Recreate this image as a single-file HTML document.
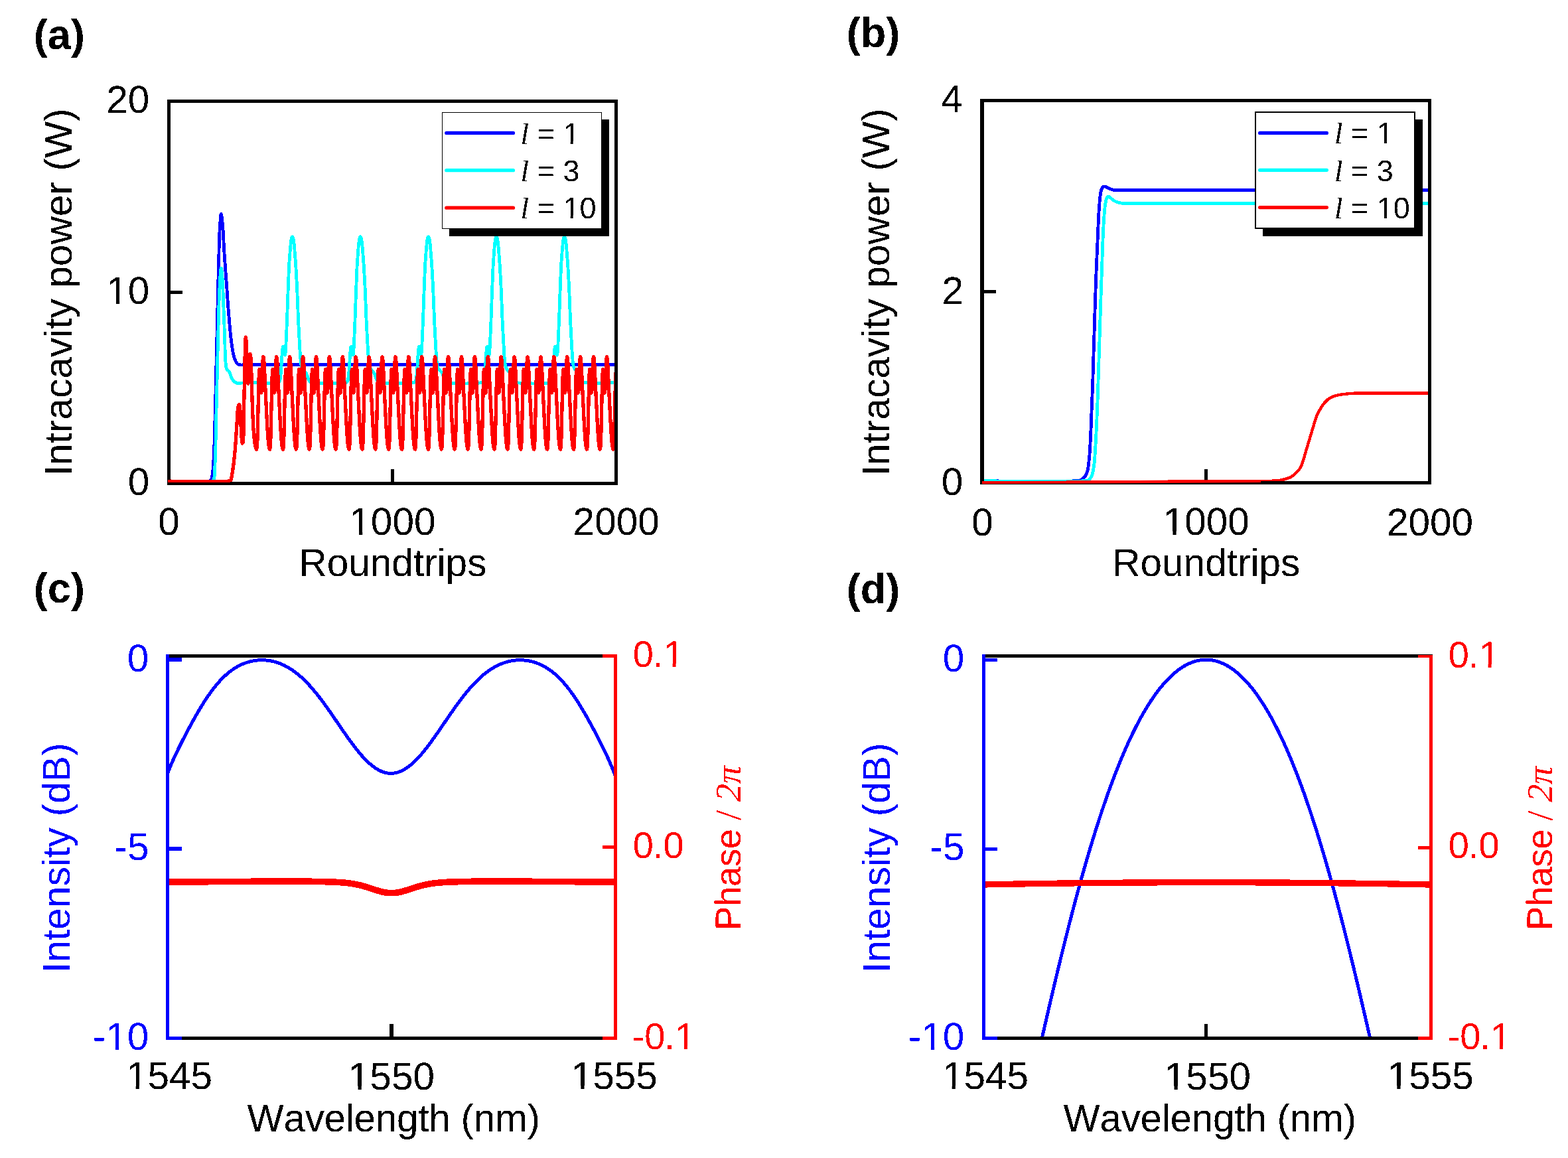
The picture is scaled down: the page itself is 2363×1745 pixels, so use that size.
<!DOCTYPE html>
<html><head><meta charset="utf-8"><title>Figure</title>
<style>
html,body{margin:0;padding:0;background:#fff;width:2363px;height:1745px;overflow:hidden}
svg{display:block}
text{font-kerning:none;text-rendering:geometricPrecision}
</style></head><body>
<svg xmlns="http://www.w3.org/2000/svg" width="2363" height="1745" viewBox="0 0 2363 1745">
<defs>
<clipPath id="ca"><rect x="252" y="155" width="674" height="571"/></clipPath>
<clipPath id="cb"><rect x="1483" y="154" width="669" height="571"/></clipPath>
<clipPath id="cc"><rect x="255" y="991" width="670" height="571"/></clipPath>
<clipPath id="cd"><rect x="1485" y="991" width="669" height="571"/></clipPath>
<filter id="crisp" color-interpolation-filters="sRGB"><feComponentTransfer><feFuncA type="discrete" tableValues="0 1"/></feComponentTransfer></filter>
</defs>
<rect width="2363" height="1745" fill="#fff"/>
<path d="M250 724.8L254.42 724.97L265.62 725.33L280.49 725.7L295.91 725.86L308.78 725.63L316 724.8L316.6 724.56L317.05 724.34L317.39 724.09L317.66 723.81L317.92 723.45L318.2 723L318.75 721.81L319.2 720.28L319.57 718.49L319.9 716.47L320.2 714.29L320.5 712L320.98 707.79L321.36 703.04L321.68 697.83L321.96 692.21L322.22 686.25L322.5 680L322.9 669.93L323.26 658.76L323.59 646.84L323.89 634.52L324.19 622.12L324.5 610L324.82 597.65L325.12 585.19L325.42 572.66L325.72 560.1L326.01 547.53L326.3 535L326.59 522.44L326.87 509.8L327.16 497.16L327.44 484.6L327.72 472.19L328 460L328.26 448.8L328.52 437.67L328.78 426.68L329.05 415.86L329.32 405.29L329.6 395L329.83 386.06L330.05 377.12L330.27 368.36L330.52 359.96L330.83 352.11L331.2 345L331.5 340.21L331.82 335.18L332.17 330.39L332.54 326.34L332.91 323.55L333.3 322.5L333.64 323.2L333.99 325.09L334.36 327.85L334.72 331.14L335.07 334.63L335.4 338L335.87 343.64L336.29 350.11L336.67 357.11L337.04 364.31L337.41 371.38L337.8 378L338.17 383.61L338.54 389.15L338.91 394.6L339.28 399.91L339.64 405.05L340 410L340.29 413.88L340.58 417.57L340.86 421.14L341.14 424.68L341.42 428.27L341.7 432L342 436.21L342.29 440.51L342.58 444.86L342.88 449.25L343.18 453.64L343.5 458L343.83 462.37L344.18 466.77L344.53 471.17L344.89 475.54L345.25 479.83L345.6 484L345.91 487.66L346.22 491.27L346.52 494.82L346.84 498.3L347.16 501.69L347.5 505L347.81 507.81L348.12 510.54L348.44 513.21L348.77 515.83L349.12 518.42L349.5 521L349.87 523.43L350.24 525.86L350.63 528.27L351.05 530.61L351.5 532.87L352 535L352.44 536.67L352.9 538.29L353.38 539.85L353.89 541.34L354.43 542.73L355 544L355.44 544.9L355.89 545.77L356.36 546.57L356.86 547.31L357.4 547.96L358 548.5L358.58 548.87L359.18 549.16L359.83 549.37L360.51 549.54L361.23 549.68L362 549.8L363.02 549.92L363.99 549.95L365.03 549.93L366.3 549.88L367.91 549.82L370 549.8L425.01 549.8L531.93 549.8L663.14 549.8L791.05 549.8L888.03 549.8L926.5 549.8" fill="none" stroke="#0000ff" stroke-width="4.8" stroke-linejoin="round" stroke-linecap="butt" shape-rendering="crispEdges" clip-path="url(#ca)"/>
<path d="M250 724.8L254.8 724.99L266.92 725.41L282.96 725.83L299.51 726.02L313.16 725.75L320.5 724.8L320.98 724.56L321.32 724.34L321.55 724.11L321.73 723.82L321.9 723.47L322.1 723L322.69 720.85L323.1 717.8L323.37 714.02L323.58 709.68L323.77 704.95L324 700L324.45 689.61L324.81 677.39L325.11 663.82L325.39 649.4L325.68 634.63L326 620L326.41 602.46L326.84 583.93L327.27 564.91L327.7 545.92L328.15 527.44L328.6 510L328.97 495.77L329.32 481.56L329.68 467.72L330.06 454.6L330.49 442.58L331 432L331.34 425.87L331.71 419.55L332.1 413.62L332.5 408.67L332.9 405.27L333.3 404L333.59 404.64L333.88 406.36L334.18 408.86L334.47 411.84L334.75 414.98L335 418L335.33 422.72L335.6 427.95L335.83 433.6L336.04 439.56L336.26 445.73L336.5 452L336.83 460.22L337.16 469L337.5 478.11L337.84 487.31L338.17 496.35L338.5 505L338.75 512.8L338.96 520.86L339.17 528.79L339.41 536.22L339.74 542.75L340.2 548L340.43 549.98L340.64 551.77L340.87 553.37L341.15 554.78L341.52 555.99L342 557L342.36 557.46L342.77 557.79L343.22 558.06L343.67 558.31L344.1 558.61L344.5 559L344.97 559.67L345.41 560.44L345.82 561.28L346.22 562.18L346.61 563.09L347 564L347.42 565.05L347.8 566.15L348.18 567.29L348.57 568.42L349 569.5L349.5 570.5L350 571.35L350.52 572.17L351.08 572.96L351.67 573.7L352.31 574.38L353 575L353.73 575.56L354.51 576.08L355.33 576.55L356.19 576.94L357.08 577.27L358 577.5L359.08 577.62L360.22 577.59L361.41 577.47L362.61 577.3L363.82 577.12L365 577L366.09 576.91L367.1 576.82L368.11 576.73L369.21 576.65L370.47 576.57L372 576.5L378.06 576.53L386.66 576.81L396.4 577.14L405.89 577.33L413.76 577.18L418.6 576.5L419.26 576.24L419.78 575.97L420.18 575.68L420.5 575.35L420.8 574.96L421.1 574.5L421.5 573.7L421.8 572.77L422.03 571.73L422.23 570.57L422.4 569.33L422.6 568L422.92 565.54L423.2 562.71L423.44 559.63L423.66 556.41L423.88 553.16L424.1 550L424.32 546.62L424.52 543.05L424.72 539.46L424.92 535.99L425.14 532.79L425.4 530L425.56 528.38L425.72 526.71L425.88 525.15L426.07 523.83L426.31 522.9L426.6 522.5L426.78 522.53L426.99 522.68L427.2 522.94L427.42 523.26L427.62 523.62L427.8 524L428.07 524.88L428.26 526L428.4 527.28L428.53 528.61L428.65 529.88L428.8 531L428.93 531.83L429.07 532.72L429.21 533.57L429.34 534.31L429.48 534.81L429.6 535L429.75 534.68L429.89 533.83L430.03 532.6L430.16 531.12L430.28 529.54L430.4 528L430.59 525.28L430.77 522.15L430.93 518.73L431.09 515.15L431.24 511.53L431.4 508L431.57 504.31L431.74 500.61L431.9 496.86L432.07 493.03L432.23 489.09L432.4 485L432.6 479.81L432.8 474.32L433.01 468.66L433.21 462.98L433.41 457.38L433.6 452L433.77 447.32L433.94 442.74L434.1 438.23L434.27 433.78L434.43 429.38L434.6 425L434.76 420.85L434.92 416.69L435.08 412.56L435.24 408.53L435.42 404.66L435.6 401L435.75 398.31L435.91 395.79L436.07 393.36L436.23 390.97L436.41 388.54L436.6 386L436.82 383.02L437.05 379.89L437.3 376.71L437.56 373.6L437.82 370.66L438.1 368L438.29 366.25L438.47 364.53L438.66 362.91L438.86 361.42L439.11 360.1L439.4 359L439.58 358.48L439.77 357.97L439.98 357.52L440.19 357.14L440.4 356.89L440.6 356.8L440.8 356.89L441.01 357.15L441.22 357.52L441.43 357.98L441.62 358.49L441.8 359L442.08 359.99L442.32 361.16L442.53 362.47L442.73 363.9L442.91 365.42L443.1 367L443.38 369.61L443.65 372.57L443.9 375.73L444.15 378.95L444.38 382.08L444.6 385L444.78 387.27L444.96 389.42L445.12 391.52L445.28 393.62L445.44 395.76L445.6 398L445.78 400.69L445.95 403.46L446.11 406.3L446.28 409.18L446.44 412.09L446.6 415L446.77 418.08L446.94 421.17L447.11 424.29L447.28 427.46L447.44 430.69L447.6 434L447.77 437.83L447.94 441.77L448.11 445.79L448.27 449.86L448.44 453.94L448.6 458L448.77 462.17L448.93 466.4L449.09 470.64L449.26 474.85L449.43 478.99L449.6 483L449.76 486.47L449.92 489.87L450.09 493.21L450.26 496.49L450.43 499.75L450.6 503L450.76 506.05L450.92 509.05L451.09 512.03L451.25 515L451.42 517.98L451.6 521L451.78 524.2L451.97 527.49L452.15 530.79L452.35 534.03L452.56 537.13L452.8 540L452.98 542.06L453.14 544.06L453.31 545.97L453.52 547.78L453.77 549.46L454.1 551L454.37 551.98L454.66 552.89L454.98 553.74L455.33 554.53L455.7 555.28L456.1 556L456.47 556.57L456.88 557.09L457.3 557.57L457.74 558.04L458.17 558.51L458.6 559L459.02 559.48L459.45 559.95L459.88 560.41L460.3 560.89L460.71 561.42L461.1 562L461.56 562.86L461.98 563.82L462.38 564.84L462.77 565.9L463.17 566.96L463.6 568L464.05 569.12L464.49 570.32L464.93 571.51L465.42 572.65L465.96 573.67L466.6 574.5L467.12 575L467.64 575.41L468.19 575.73L468.84 576L469.62 576.25L470.6 576.5L476.46 577.25L485.6 577.74L496.33 577.94L506.95 577.82L515.77 577.35L521.1 576.5L521.77 576.24L522.28 575.97L522.68 575.68L523.01 575.35L523.3 574.96L523.6 574.5L524 573.7L524.3 572.77L524.53 571.73L524.73 570.57L524.9 569.33L525.1 568L525.42 565.54L525.7 562.71L525.94 559.63L526.16 556.41L526.38 553.16L526.6 550L526.82 546.62L527.02 543.05L527.22 539.46L527.42 535.99L527.64 532.79L527.9 530L528.06 528.38L528.22 526.71L528.38 525.15L528.57 523.83L528.81 522.9L529.1 522.5L529.28 522.53L529.49 522.68L529.7 522.94L529.92 523.26L530.12 523.62L530.3 524L530.57 524.88L530.76 526L530.9 527.28L531.03 528.61L531.15 529.88L531.3 531L531.43 531.83L531.57 532.72L531.71 533.57L531.84 534.31L531.98 534.81L532.1 535L532.25 534.68L532.39 533.83L532.53 532.6L532.66 531.12L532.78 529.54L532.9 528L533.09 525.28L533.27 522.15L533.43 518.73L533.59 515.15L533.74 511.53L533.9 508L534.07 504.31L534.24 500.61L534.4 496.86L534.57 493.03L534.73 489.09L534.9 485L535.1 479.81L535.3 474.32L535.51 468.66L535.71 462.98L535.91 457.38L536.1 452L536.27 447.32L536.44 442.74L536.6 438.23L536.77 433.78L536.93 429.38L537.1 425L537.26 420.85L537.42 416.69L537.58 412.56L537.74 408.53L537.92 404.66L538.1 401L538.25 398.31L538.41 395.79L538.57 393.36L538.73 390.97L538.91 388.54L539.1 386L539.32 383.02L539.55 379.89L539.8 376.71L540.06 373.6L540.32 370.66L540.6 368L540.79 366.25L540.97 364.53L541.16 362.91L541.36 361.42L541.61 360.1L541.9 359L542.08 358.48L542.27 357.97L542.48 357.52L542.69 357.14L542.9 356.89L543.1 356.8L543.3 356.89L543.51 357.15L543.72 357.52L543.93 357.98L544.12 358.49L544.3 359L544.58 359.99L544.82 361.16L545.03 362.47L545.23 363.9L545.41 365.42L545.6 367L545.88 369.61L546.15 372.57L546.4 375.73L546.65 378.95L546.88 382.08L547.1 385L547.28 387.27L547.46 389.42L547.62 391.52L547.78 393.62L547.94 395.76L548.1 398L548.28 400.69L548.45 403.46L548.61 406.3L548.78 409.18L548.94 412.09L549.1 415L549.27 418.08L549.44 421.17L549.61 424.29L549.78 427.46L549.94 430.69L550.1 434L550.27 437.83L550.44 441.77L550.61 445.79L550.77 449.86L550.94 453.94L551.1 458L551.27 462.17L551.43 466.4L551.59 470.64L551.76 474.85L551.93 478.99L552.1 483L552.26 486.47L552.42 489.87L552.59 493.21L552.76 496.49L552.93 499.75L553.1 503L553.26 506.05L553.42 509.05L553.59 512.03L553.75 515L553.92 517.98L554.1 521L554.28 524.2L554.47 527.49L554.65 530.79L554.85 534.03L555.06 537.13L555.3 540L555.48 542.06L555.64 544.06L555.81 545.97L556.02 547.78L556.27 549.46L556.6 551L556.87 551.98L557.16 552.89L557.48 553.74L557.83 554.53L558.2 555.28L558.6 556L558.97 556.57L559.38 557.09L559.8 557.57L560.24 558.04L560.67 558.51L561.1 559L561.52 559.48L561.95 559.95L562.38 560.41L562.8 560.89L563.21 561.42L563.6 562L564.06 562.86L564.48 563.82L564.88 564.84L565.27 565.9L565.67 566.96L566.1 568L566.55 569.12L566.99 570.32L567.43 571.51L567.92 572.65L568.46 573.67L569.1 574.5L569.62 575L570.14 575.41L570.69 575.73L571.34 576L572.12 576.25L573.1 576.5L578.96 577.25L588.1 577.74L598.83 577.94L609.45 577.82L618.27 577.35L623.6 576.5L624.27 576.24L624.78 575.97L625.18 575.68L625.51 575.35L625.8 574.96L626.1 574.5L626.5 573.7L626.8 572.77L627.03 571.73L627.23 570.57L627.4 569.33L627.6 568L627.92 565.54L628.2 562.71L628.44 559.63L628.66 556.41L628.88 553.16L629.1 550L629.32 546.62L629.52 543.05L629.72 539.46L629.92 535.99L630.14 532.79L630.4 530L630.56 528.38L630.72 526.71L630.88 525.15L631.07 523.83L631.31 522.9L631.6 522.5L631.78 522.53L631.99 522.68L632.2 522.94L632.42 523.26L632.62 523.62L632.8 524L633.07 524.88L633.26 526L633.4 527.28L633.53 528.61L633.65 529.88L633.8 531L633.93 531.83L634.07 532.72L634.21 533.57L634.34 534.31L634.48 534.81L634.6 535L634.75 534.68L634.89 533.83L635.03 532.6L635.16 531.12L635.28 529.54L635.4 528L635.59 525.28L635.77 522.15L635.93 518.73L636.09 515.15L636.24 511.53L636.4 508L636.57 504.31L636.74 500.61L636.9 496.86L637.07 493.03L637.23 489.09L637.4 485L637.6 479.81L637.8 474.32L638.01 468.66L638.21 462.98L638.41 457.38L638.6 452L638.77 447.32L638.94 442.74L639.1 438.23L639.27 433.78L639.43 429.38L639.6 425L639.76 420.85L639.92 416.69L640.08 412.56L640.24 408.53L640.42 404.66L640.6 401L640.75 398.31L640.91 395.79L641.07 393.36L641.23 390.97L641.41 388.54L641.6 386L641.82 383.02L642.05 379.89L642.3 376.71L642.56 373.6L642.82 370.66L643.1 368L643.29 366.25L643.47 364.53L643.66 362.91L643.86 361.42L644.11 360.1L644.4 359L644.58 358.48L644.77 357.97L644.98 357.52L645.19 357.14L645.4 356.89L645.6 356.8L645.8 356.89L646.01 357.15L646.22 357.52L646.43 357.98L646.62 358.49L646.8 359L647.08 359.99L647.32 361.16L647.53 362.47L647.73 363.9L647.91 365.42L648.1 367L648.38 369.61L648.65 372.57L648.9 375.73L649.15 378.95L649.38 382.08L649.6 385L649.78 387.27L649.96 389.42L650.12 391.52L650.28 393.62L650.44 395.76L650.6 398L650.78 400.69L650.95 403.46L651.11 406.3L651.28 409.18L651.44 412.09L651.6 415L651.77 418.08L651.94 421.17L652.11 424.29L652.28 427.46L652.44 430.69L652.6 434L652.77 437.83L652.94 441.77L653.11 445.79L653.27 449.86L653.44 453.94L653.6 458L653.77 462.17L653.93 466.4L654.09 470.64L654.26 474.85L654.43 478.99L654.6 483L654.76 486.47L654.92 489.87L655.09 493.21L655.26 496.49L655.43 499.75L655.6 503L655.76 506.05L655.92 509.05L656.09 512.03L656.25 515L656.42 517.98L656.6 521L656.78 524.2L656.97 527.49L657.15 530.79L657.35 534.03L657.56 537.13L657.8 540L657.98 542.06L658.14 544.06L658.31 545.97L658.52 547.78L658.77 549.46L659.1 551L659.37 551.98L659.66 552.89L659.98 553.74L660.33 554.53L660.7 555.28L661.1 556L661.47 556.57L661.88 557.09L662.3 557.57L662.74 558.04L663.17 558.51L663.6 559L664.02 559.48L664.45 559.95L664.88 560.41L665.3 560.89L665.71 561.42L666.1 562L666.56 562.86L666.98 563.82L667.38 564.84L667.77 565.9L668.17 566.96L668.6 568L669.05 569.12L669.49 570.32L669.93 571.51L670.42 572.65L670.96 573.67L671.6 574.5L672.12 575L672.64 575.41L673.19 575.73L673.84 576L674.62 576.25L675.6 576.5L681.46 577.25L690.6 577.74L701.33 577.94L711.95 577.82L720.77 577.35L726.1 576.5L726.77 576.24L727.28 575.97L727.68 575.68L728.01 575.35L728.3 574.96L728.6 574.5L729 573.7L729.3 572.77L729.53 571.73L729.73 570.57L729.9 569.33L730.1 568L730.42 565.54L730.7 562.71L730.94 559.63L731.16 556.41L731.38 553.16L731.6 550L731.82 546.62L732.02 543.05L732.22 539.46L732.42 535.99L732.64 532.79L732.9 530L733.06 528.38L733.22 526.71L733.38 525.15L733.57 523.83L733.81 522.9L734.1 522.5L734.28 522.53L734.49 522.68L734.7 522.94L734.92 523.26L735.12 523.62L735.3 524L735.57 524.88L735.76 526L735.9 527.28L736.03 528.61L736.15 529.88L736.3 531L736.43 531.83L736.57 532.72L736.71 533.57L736.84 534.31L736.98 534.81L737.1 535L737.25 534.68L737.39 533.83L737.53 532.6L737.66 531.12L737.78 529.54L737.9 528L738.09 525.28L738.27 522.15L738.43 518.73L738.59 515.15L738.74 511.53L738.9 508L739.07 504.31L739.24 500.61L739.4 496.86L739.57 493.03L739.73 489.09L739.9 485L740.1 479.81L740.3 474.32L740.51 468.66L740.71 462.98L740.91 457.38L741.1 452L741.27 447.32L741.44 442.74L741.6 438.23L741.77 433.78L741.93 429.38L742.1 425L742.26 420.85L742.42 416.69L742.58 412.56L742.74 408.53L742.92 404.66L743.1 401L743.25 398.31L743.41 395.79L743.57 393.36L743.73 390.97L743.91 388.54L744.1 386L744.32 383.02L744.55 379.89L744.8 376.71L745.06 373.6L745.32 370.66L745.6 368L745.79 366.25L745.97 364.53L746.16 362.91L746.36 361.42L746.61 360.1L746.9 359L747.08 358.48L747.27 357.97L747.48 357.52L747.69 357.14L747.9 356.89L748.1 356.8L748.3 356.89L748.51 357.15L748.72 357.52L748.93 357.98L749.12 358.49L749.3 359L749.58 359.99L749.82 361.16L750.03 362.47L750.23 363.9L750.41 365.42L750.6 367L750.88 369.61L751.15 372.57L751.4 375.73L751.65 378.95L751.88 382.08L752.1 385L752.28 387.27L752.46 389.42L752.62 391.52L752.78 393.62L752.94 395.76L753.1 398L753.28 400.69L753.45 403.46L753.61 406.3L753.78 409.18L753.94 412.09L754.1 415L754.27 418.08L754.44 421.17L754.61 424.29L754.78 427.46L754.94 430.69L755.1 434L755.27 437.83L755.44 441.77L755.61 445.79L755.77 449.86L755.94 453.94L756.1 458L756.27 462.17L756.43 466.4L756.59 470.64L756.76 474.85L756.93 478.99L757.1 483L757.26 486.47L757.42 489.87L757.59 493.21L757.76 496.49L757.93 499.75L758.1 503L758.26 506.05L758.42 509.05L758.59 512.03L758.75 515L758.92 517.98L759.1 521L759.28 524.2L759.47 527.49L759.65 530.79L759.85 534.03L760.06 537.13L760.3 540L760.48 542.06L760.64 544.06L760.81 545.97L761.02 547.78L761.27 549.46L761.6 551L761.87 551.98L762.16 552.89L762.48 553.74L762.83 554.53L763.2 555.28L763.6 556L763.97 556.57L764.38 557.09L764.8 557.57L765.24 558.04L765.67 558.51L766.1 559L766.52 559.48L766.95 559.95L767.38 560.41L767.8 560.89L768.21 561.42L768.6 562L769.06 562.86L769.48 563.82L769.88 564.84L770.27 565.9L770.67 566.96L771.1 568L771.55 569.12L771.99 570.32L772.43 571.51L772.92 572.65L773.46 573.67L774.1 574.5L774.62 575L775.14 575.41L775.69 575.73L776.34 576L777.12 576.25L778.1 576.5L783.96 577.25L793.1 577.74L803.83 577.94L814.45 577.82L823.27 577.35L828.6 576.5L829.27 576.24L829.78 575.97L830.18 575.68L830.51 575.35L830.8 574.96L831.1 574.5L831.5 573.7L831.8 572.77L832.03 571.73L832.23 570.57L832.4 569.33L832.6 568L832.92 565.54L833.2 562.71L833.44 559.63L833.66 556.41L833.88 553.16L834.1 550L834.32 546.62L834.52 543.05L834.72 539.46L834.92 535.99L835.14 532.79L835.4 530L835.56 528.38L835.72 526.71L835.88 525.15L836.07 523.83L836.31 522.9L836.6 522.5L836.78 522.53L836.99 522.68L837.2 522.94L837.42 523.26L837.62 523.62L837.8 524L838.07 524.88L838.26 526L838.4 527.28L838.53 528.61L838.65 529.88L838.8 531L838.93 531.83L839.07 532.72L839.21 533.57L839.34 534.31L839.48 534.81L839.6 535L839.75 534.68L839.89 533.83L840.03 532.6L840.16 531.12L840.28 529.54L840.4 528L840.59 525.28L840.77 522.15L840.93 518.73L841.09 515.15L841.24 511.53L841.4 508L841.57 504.31L841.74 500.61L841.9 496.86L842.07 493.03L842.23 489.09L842.4 485L842.6 479.81L842.8 474.32L843.01 468.66L843.21 462.98L843.41 457.38L843.6 452L843.77 447.32L843.94 442.74L844.1 438.23L844.27 433.78L844.43 429.38L844.6 425L844.76 420.85L844.92 416.69L845.08 412.56L845.24 408.53L845.42 404.66L845.6 401L845.75 398.31L845.91 395.79L846.07 393.36L846.23 390.97L846.41 388.54L846.6 386L846.82 383.02L847.05 379.89L847.3 376.71L847.56 373.6L847.82 370.66L848.1 368L848.29 366.25L848.47 364.53L848.66 362.91L848.86 361.42L849.11 360.1L849.4 359L849.58 358.48L849.77 357.97L849.98 357.52L850.19 357.14L850.4 356.89L850.6 356.8L850.8 356.89L851.01 357.15L851.22 357.52L851.43 357.98L851.62 358.49L851.8 359L852.08 359.99L852.32 361.16L852.53 362.47L852.73 363.9L852.91 365.42L853.1 367L853.38 369.61L853.65 372.57L853.9 375.73L854.15 378.95L854.38 382.08L854.6 385L854.78 387.27L854.96 389.42L855.12 391.52L855.28 393.62L855.44 395.76L855.6 398L855.78 400.69L855.95 403.46L856.11 406.3L856.28 409.18L856.44 412.09L856.6 415L856.77 418.08L856.94 421.17L857.11 424.29L857.28 427.46L857.44 430.69L857.6 434L857.77 437.83L857.94 441.77L858.11 445.79L858.27 449.86L858.44 453.94L858.6 458L858.77 462.17L858.93 466.4L859.09 470.64L859.26 474.85L859.43 478.99L859.6 483L859.76 486.47L859.92 489.87L860.09 493.21L860.26 496.49L860.43 499.75L860.6 503L860.76 506.05L860.92 509.05L861.09 512.03L861.25 515L861.42 517.98L861.6 521L861.78 524.2L861.97 527.49L862.15 530.79L862.35 534.03L862.56 537.13L862.8 540L862.98 542.06L863.14 544.06L863.31 545.97L863.52 547.78L863.77 549.46L864.1 551L864.37 551.98L864.66 552.89L864.98 553.74L865.33 554.53L865.7 555.28L866.1 556L866.47 556.57L866.88 557.09L867.3 557.57L867.74 558.04L868.17 558.51L868.6 559L869.02 559.48L869.45 559.95L869.88 560.41L870.3 560.89L870.71 561.42L871.1 562L871.56 562.86L871.98 563.82L872.38 564.84L872.77 565.9L873.17 566.96L873.6 568L874.05 569.12L874.49 570.32L874.93 571.51L875.42 572.65L875.96 573.67L876.6 574.5L877.13 575L877.64 575.41L878.2 575.73L878.85 576.01L879.63 576.25L880.6 576.5L886.39 577.07L895.56 577.22L906.13 577.11L916.13 576.86L923.58 576.61L926.5 576.5" fill="none" stroke="#00ffff" stroke-width="4.8" stroke-linejoin="round" stroke-linecap="butt" shape-rendering="crispEdges" clip-path="url(#ca)"/>
<path d="M250 725L263.98 725.29L295.27 725.78L327.93 725.88L346 725L346.62 724.81L347.01 724.63L347.3 724.38L347.6 724L348.22 722.62L348.68 720.66L349.08 718.37L349.5 716L350.11 712.64L350.69 708.94L351.26 705.02L351.8 701L352.4 696.25L352.96 691.3L353.5 686.2L354 681L354.5 675.17L354.95 669.17L355.38 663.09L355.8 657L356.22 650.67L356.62 644.23L357.02 637.92L357.4 632L357.69 627.26L357.95 622.61L358.24 618.4L358.6 615L358.81 613.59L359.03 612.35L359.28 611.31L359.6 610.5L359.81 610.12L360.05 609.79L360.29 609.56L360.5 609.5L360.82 609.98L361.07 611.06L361.29 612.48L361.5 614L361.83 617.23L362.07 621.18L362.27 625.54L362.5 630L362.81 635.81L363.11 642.1L363.43 648.34L363.8 654L364.09 658.4L364.38 662.94L364.73 666.5L365.2 668L365.44 667.86L365.71 667.43L365.97 666.78L366.2 666L366.7 661.72L366.91 655.2L366.98 647.59L367.1 640L367.32 630.6L367.52 620.54L367.71 610.2L367.9 600L368.1 589.94L368.3 579.83L368.5 569.81L368.7 560L368.89 550.79L369.07 541.57L369.27 532.82L369.5 525L369.67 519.53L369.85 514L370.06 509.72L370.3 508L370.49 508.65L370.7 510.33L370.91 512.59L371.1 515L371.37 520.7L371.56 527.86L371.72 535.6L371.9 543L372.09 550.16L372.27 557.53L372.49 564.39L372.8 570L373.03 572.71L373.29 575.3L373.55 577.24L373.8 578L374.07 576.78L374.33 573.74L374.57 569.83L374.8 566L375.07 560.54L375.29 554.34L375.51 548.22L375.8 543L376.02 539.89L376.25 536.81L376.51 534.45L376.8 533.5L377.04 533.9L377.31 534.96L377.57 536.42L377.8 538L378.17 542.21L378.41 547.66L378.6 553.77L378.8 560L379.07 568.04L379.31 576.71L379.55 585.52L379.8 594L380.04 601.48L380.27 608.82L380.52 616L380.8 623L381.07 629.26L381.34 635.4L381.65 641.35L382 647L382.33 651.57L382.69 655.99L383.07 660.17L383.5 664L383.83 666.68L384.16 669.23L384.54 671.53L385 673.5L385.36 674.68L385.76 675.82L386.16 676.68L386.5 677L386.8 676.51L387.03 675.32L387.22 673.72L387.4 672L387.7 668.07L387.89 663.19L388.04 657.71L388.2 652L388.42 643.93L388.62 635.11L388.81 625.98L389 617L389.2 608.02L389.39 598.89L389.59 590.07L389.8 582L389.96 576.32L390.11 570.87L390.28 565.99L390.5 562L390.64 560.12L390.78 558.35L390.94 557.02L391.1 556.5L391.27 557.03L391.45 558.38L391.63 560.16L391.8 562L392.03 565.44L392.23 569.54L392.41 573.88L392.6 578L392.78 582.22L392.94 586.8L393.14 590.48L393.4 592L393.59 591.64L393.8 590.69L394.01 589.4L394.2 588L394.49 584.45L394.68 579.9L394.83 574.9L395 570L395.2 564.67L395.4 559.09L395.59 553.71L395.8 549L395.94 546.18L396.07 543.53L396.22 541.24L396.4 539.5L396.49 538.9L396.59 538.35L396.69 537.95L396.8 537.8L396.92 537.95L397.05 538.36L397.18 538.91L397.3 539.5L397.51 540.92L397.68 542.7L397.84 544.76L398 547L398.26 551.11L398.51 555.87L398.76 560.95L399 566L399.25 571.41L399.5 576.96L399.75 582.54L400 588L400.25 593.07L400.5 598.06L400.75 603.02L401 608L401.25 613.02L401.5 618.07L401.75 623.07L402 628L402.24 632.61L402.49 637.16L402.74 641.64L403 646L403.24 649.92L403.48 653.78L403.73 657.5L404 661L404.23 663.74L404.48 666.38L404.73 668.83L405 671L405.18 672.31L405.37 673.52L405.57 674.59L405.8 675.5L405.97 676.01L406.15 676.5L406.33 676.87L406.5 677L406.75 676.51L406.96 675.32L407.14 673.72L407.31 672L407.59 668.07L407.79 663.18L407.95 657.71L408.11 652L408.33 643.93L408.53 635.11L408.72 625.98L408.91 617L409.11 608.02L409.3 598.89L409.5 590.07L409.71 582L409.87 576.32L410.02 570.87L410.19 565.99L410.41 562L410.55 560.12L410.69 558.35L410.85 557.02L411.01 556.5L411.18 557.03L411.36 558.38L411.54 560.16L411.71 562L411.94 565.44L412.14 569.54L412.32 573.88L412.51 578L412.69 582.22L412.85 586.8L413.05 590.48L413.31 592L413.5 591.64L413.71 590.69L413.92 589.4L414.11 588L414.4 584.45L414.59 579.9L414.74 574.9L414.91 570L415.11 564.67L415.31 559.09L415.5 553.71L415.71 549L415.85 546.18L415.98 543.53L416.13 541.24L416.31 539.5L416.4 538.9L416.5 538.35L416.6 537.95L416.71 537.8L416.83 537.95L416.96 538.36L417.09 538.91L417.21 539.5L417.42 540.92L417.59 542.7L417.75 544.76L417.91 547L418.17 551.11L418.42 555.87L418.67 560.95L418.91 566L419.16 571.41L419.41 576.96L419.66 582.54L419.91 588L420.16 593.07L420.41 598.06L420.66 603.02L420.91 608L421.16 613.02L421.41 618.07L421.66 623.07L421.91 628L422.15 632.61L422.4 637.16L422.65 641.64L422.91 646L423.15 649.92L423.39 653.78L423.64 657.5L423.91 661L424.14 663.74L424.39 666.38L424.64 668.83L424.91 671L425.09 672.31L425.28 673.52L425.48 674.59L425.71 675.5L425.88 676.01L426.06 676.5L426.24 676.87L426.41 677L426.66 676.51L426.87 675.32L427.05 673.72L427.22 672L427.5 668.07L427.7 663.18L427.86 657.71L428.02 652L428.24 643.93L428.44 635.11L428.63 625.98L428.82 617L429.02 608.02L429.21 598.89L429.41 590.07L429.62 582L429.78 576.32L429.93 570.87L430.1 565.99L430.32 562L430.46 560.12L430.6 558.35L430.76 557.02L430.92 556.5L431.09 557.03L431.27 558.38L431.45 560.16L431.62 562L431.85 565.44L432.05 569.54L432.23 573.88L432.42 578L432.6 582.22L432.76 586.8L432.96 590.48L433.22 592L433.41 591.64L433.62 590.69L433.83 589.4L434.02 588L434.31 584.45L434.5 579.9L434.65 574.9L434.82 570L435.02 564.67L435.22 559.09L435.41 553.71L435.62 549L435.76 546.18L435.89 543.53L436.04 541.24L436.22 539.5L436.31 538.9L436.41 538.35L436.51 537.95L436.62 537.8L436.74 537.95L436.87 538.36L437 538.91L437.12 539.5L437.33 540.92L437.5 542.7L437.66 544.76L437.82 547L438.08 551.11L438.33 555.87L438.58 560.95L438.82 566L439.07 571.41L439.32 576.96L439.57 582.54L439.82 588L440.07 593.07L440.32 598.06L440.57 603.02L440.82 608L441.07 613.02L441.32 618.07L441.57 623.07L441.82 628L442.06 632.61L442.31 637.16L442.56 641.64L442.82 646L443.06 649.92L443.3 653.78L443.55 657.5L443.82 661L444.05 663.74L444.3 666.38L444.55 668.83L444.82 671L445 672.31L445.19 673.52L445.39 674.59L445.62 675.5L445.79 676.01L445.97 676.5L446.15 676.87L446.32 677L446.57 676.51L446.78 675.32L446.96 673.72L447.13 672L447.41 668.07L447.61 663.18L447.77 657.71L447.93 652L448.15 643.93L448.35 635.11L448.54 625.98L448.73 617L448.93 608.02L449.12 598.89L449.32 590.07L449.53 582L449.69 576.32L449.84 570.87L450.01 565.99L450.23 562L450.37 560.12L450.51 558.35L450.67 557.02L450.83 556.5L451 557.03L451.18 558.38L451.36 560.16L451.53 562L451.76 565.44L451.96 569.54L452.14 573.88L452.33 578L452.51 582.22L452.67 586.8L452.87 590.48L453.13 592L453.32 591.64L453.53 590.69L453.74 589.4L453.93 588L454.22 584.45L454.41 579.9L454.56 574.9L454.73 570L454.93 564.67L455.13 559.09L455.32 553.71L455.53 549L455.67 546.18L455.8 543.53L455.95 541.24L456.13 539.5L456.22 538.9L456.32 538.35L456.42 537.95L456.53 537.8L456.65 537.95L456.78 538.36L456.91 538.91L457.03 539.5L457.24 540.92L457.41 542.7L457.57 544.76L457.73 547L457.99 551.11L458.24 555.87L458.49 560.95L458.73 566L458.98 571.41L459.23 576.96L459.48 582.54L459.73 588L459.98 593.07L460.23 598.06L460.48 603.02L460.73 608L460.98 613.02L461.23 618.07L461.48 623.07L461.73 628L461.97 632.61L462.22 637.16L462.47 641.64L462.73 646L462.97 649.92L463.21 653.78L463.46 657.5L463.73 661L463.96 663.74L464.21 666.38L464.46 668.83L464.73 671L464.91 672.31L465.1 673.52L465.3 674.59L465.53 675.5L465.7 676.01L465.88 676.5L466.06 676.87L466.23 677L466.48 676.51L466.69 675.32L466.87 673.72L467.04 672L467.32 668.07L467.52 663.18L467.68 657.71L467.84 652L468.06 643.93L468.26 635.11L468.45 625.98L468.64 617L468.84 608.02L469.03 598.89L469.23 590.07L469.44 582L469.6 576.32L469.75 570.87L469.92 565.99L470.14 562L470.28 560.12L470.42 558.35L470.58 557.02L470.74 556.5L470.91 557.03L471.09 558.38L471.27 560.16L471.44 562L471.67 565.44L471.87 569.54L472.05 573.88L472.24 578L472.42 582.22L472.58 586.8L472.78 590.48L473.04 592L473.23 591.64L473.44 590.69L473.65 589.4L473.84 588L474.13 584.45L474.32 579.9L474.47 574.9L474.64 570L474.84 564.67L475.04 559.09L475.23 553.71L475.44 549L475.58 546.18L475.71 543.53L475.86 541.24L476.04 539.5L476.13 538.9L476.23 538.35L476.33 537.95L476.44 537.8L476.56 537.95L476.69 538.36L476.82 538.91L476.94 539.5L477.15 540.92L477.32 542.7L477.48 544.76L477.64 547L477.9 551.11L478.15 555.87L478.4 560.95L478.64 566L478.89 571.41L479.14 576.96L479.39 582.54L479.64 588L479.89 593.07L480.14 598.06L480.39 603.02L480.64 608L480.89 613.02L481.14 618.07L481.39 623.07L481.64 628L481.88 632.61L482.13 637.16L482.38 641.64L482.64 646L482.88 649.92L483.12 653.78L483.37 657.5L483.64 661L483.87 663.74L484.12 666.38L484.37 668.83L484.64 671L484.82 672.31L485.01 673.52L485.21 674.59L485.44 675.5L485.61 676.01L485.79 676.5L485.97 676.87L486.14 677L486.39 676.51L486.6 675.32L486.78 673.72L486.95 672L487.23 668.07L487.43 663.18L487.59 657.71L487.75 652L487.97 643.93L488.17 635.11L488.36 625.98L488.55 617L488.75 608.02L488.94 598.89L489.14 590.07L489.35 582L489.51 576.32L489.66 570.87L489.83 565.99L490.05 562L490.19 560.12L490.33 558.35L490.49 557.02L490.65 556.5L490.82 557.03L491 558.38L491.18 560.16L491.35 562L491.58 565.44L491.78 569.54L491.96 573.88L492.15 578L492.33 582.22L492.49 586.8L492.69 590.48L492.95 592L493.14 591.64L493.35 590.69L493.56 589.4L493.75 588L494.04 584.45L494.23 579.9L494.38 574.9L494.55 570L494.75 564.67L494.95 559.09L495.14 553.71L495.35 549L495.49 546.18L495.62 543.53L495.77 541.24L495.95 539.5L496.04 538.9L496.14 538.35L496.24 537.95L496.35 537.8L496.47 537.95L496.6 538.36L496.73 538.91L496.85 539.5L497.06 540.92L497.23 542.7L497.39 544.76L497.55 547L497.81 551.11L498.06 555.87L498.31 560.95L498.55 566L498.8 571.41L499.05 576.96L499.3 582.54L499.55 588L499.8 593.07L500.05 598.06L500.3 603.02L500.55 608L500.8 613.02L501.05 618.07L501.3 623.07L501.55 628L501.79 632.61L502.04 637.16L502.29 641.64L502.55 646L502.79 649.92L503.03 653.78L503.28 657.5L503.55 661L503.78 663.74L504.03 666.38L504.28 668.83L504.55 671L504.73 672.31L504.92 673.52L505.12 674.59L505.35 675.5L505.52 676.01L505.7 676.5L505.88 676.87L506.05 677L506.3 676.51L506.51 675.32L506.69 673.72L506.86 672L507.14 668.07L507.34 663.18L507.5 657.71L507.66 652L507.88 643.93L508.08 635.11L508.27 625.98L508.46 617L508.66 608.02L508.85 598.89L509.05 590.07L509.26 582L509.42 576.32L509.57 570.87L509.74 565.99L509.96 562L510.1 560.12L510.24 558.35L510.4 557.02L510.56 556.5L510.73 557.03L510.91 558.38L511.09 560.16L511.26 562L511.49 565.44L511.69 569.54L511.87 573.88L512.06 578L512.24 582.22L512.4 586.8L512.6 590.48L512.86 592L513.05 591.64L513.26 590.69L513.47 589.4L513.66 588L513.95 584.45L514.14 579.9L514.29 574.9L514.46 570L514.66 564.67L514.86 559.09L515.05 553.71L515.26 549L515.4 546.18L515.53 543.53L515.68 541.24L515.86 539.5L515.95 538.9L516.05 538.35L516.15 537.95L516.26 537.8L516.38 537.95L516.51 538.36L516.64 538.91L516.76 539.5L516.97 540.92L517.14 542.7L517.3 544.76L517.46 547L517.72 551.11L517.97 555.87L518.22 560.95L518.46 566L518.71 571.41L518.96 576.96L519.21 582.54L519.46 588L519.71 593.07L519.96 598.06L520.21 603.02L520.46 608L520.71 613.02L520.96 618.07L521.21 623.07L521.46 628L521.7 632.61L521.95 637.16L522.2 641.64L522.46 646L522.7 649.92L522.94 653.78L523.19 657.5L523.46 661L523.69 663.74L523.94 666.38L524.19 668.83L524.46 671L524.64 672.31L524.83 673.52L525.03 674.59L525.26 675.5L525.43 676.01L525.61 676.5L525.79 676.87L525.96 677L526.21 676.51L526.42 675.32L526.6 673.72L526.77 672L527.05 668.07L527.25 663.18L527.41 657.71L527.57 652L527.79 643.93L527.99 635.11L528.18 625.98L528.37 617L528.57 608.02L528.76 598.89L528.96 590.07L529.17 582L529.33 576.32L529.48 570.87L529.65 565.99L529.87 562L530.01 560.12L530.15 558.35L530.31 557.02L530.47 556.5L530.64 557.03L530.82 558.38L531 560.16L531.17 562L531.4 565.44L531.6 569.54L531.78 573.88L531.97 578L532.15 582.22L532.31 586.8L532.51 590.48L532.77 592L532.96 591.64L533.17 590.69L533.38 589.4L533.57 588L533.86 584.45L534.05 579.9L534.2 574.9L534.37 570L534.57 564.67L534.77 559.09L534.96 553.71L535.17 549L535.31 546.18L535.44 543.53L535.59 541.24L535.77 539.5L535.86 538.9L535.96 538.35L536.06 537.95L536.17 537.8L536.29 537.95L536.42 538.36L536.55 538.91L536.67 539.5L536.88 540.92L537.05 542.7L537.21 544.76L537.37 547L537.63 551.11L537.88 555.87L538.13 560.95L538.37 566L538.62 571.41L538.87 576.96L539.12 582.54L539.37 588L539.62 593.07L539.87 598.06L540.12 603.02L540.37 608L540.62 613.02L540.87 618.07L541.12 623.07L541.37 628L541.61 632.61L541.86 637.16L542.11 641.64L542.37 646L542.61 649.92L542.85 653.78L543.1 657.5L543.37 661L543.6 663.74L543.85 666.38L544.1 668.83L544.37 671L544.55 672.31L544.74 673.52L544.94 674.59L545.17 675.5L545.34 676.01L545.52 676.5L545.7 676.87L545.87 677L546.12 676.51L546.33 675.32L546.51 673.72L546.68 672L546.96 668.07L547.16 663.18L547.32 657.71L547.48 652L547.7 643.93L547.9 635.11L548.09 625.98L548.28 617L548.48 608.02L548.67 598.89L548.87 590.07L549.08 582L549.24 576.32L549.39 570.87L549.56 565.99L549.78 562L549.92 560.12L550.06 558.35L550.22 557.02L550.38 556.5L550.55 557.03L550.73 558.38L550.91 560.16L551.08 562L551.31 565.44L551.51 569.54L551.69 573.88L551.88 578L552.06 582.22L552.22 586.8L552.42 590.48L552.68 592L552.87 591.64L553.08 590.69L553.29 589.4L553.48 588L553.77 584.45L553.96 579.9L554.11 574.9L554.28 570L554.48 564.67L554.68 559.09L554.87 553.71L555.08 549L555.22 546.18L555.35 543.53L555.5 541.24L555.68 539.5L555.77 538.9L555.87 538.35L555.97 537.95L556.08 537.8L556.2 537.95L556.33 538.36L556.46 538.91L556.58 539.5L556.79 540.92L556.96 542.7L557.12 544.76L557.28 547L557.54 551.11L557.79 555.87L558.04 560.95L558.28 566L558.53 571.41L558.78 576.96L559.03 582.54L559.28 588L559.53 593.07L559.78 598.06L560.03 603.02L560.28 608L560.53 613.02L560.78 618.07L561.03 623.07L561.28 628L561.52 632.61L561.77 637.16L562.02 641.64L562.28 646L562.52 649.92L562.76 653.78L563.01 657.5L563.28 661L563.51 663.74L563.76 666.38L564.01 668.83L564.28 671L564.46 672.31L564.65 673.52L564.85 674.59L565.08 675.5L565.25 676.01L565.43 676.5L565.61 676.87L565.78 677L566.03 676.51L566.24 675.32L566.42 673.72L566.59 672L566.87 668.07L567.07 663.18L567.23 657.71L567.39 652L567.61 643.93L567.81 635.11L568 625.98L568.19 617L568.39 608.02L568.58 598.89L568.78 590.07L568.99 582L569.15 576.32L569.3 570.87L569.47 565.99L569.69 562L569.83 560.12L569.97 558.35L570.13 557.02L570.29 556.5L570.46 557.03L570.64 558.38L570.82 560.16L570.99 562L571.22 565.44L571.42 569.54L571.6 573.88L571.79 578L571.97 582.22L572.13 586.8L572.33 590.48L572.59 592L572.78 591.64L572.99 590.69L573.2 589.4L573.39 588L573.68 584.45L573.87 579.9L574.02 574.9L574.19 570L574.39 564.67L574.59 559.09L574.78 553.71L574.99 549L575.13 546.18L575.26 543.53L575.41 541.24L575.59 539.5L575.68 538.9L575.78 538.35L575.88 537.95L575.99 537.8L576.11 537.95L576.24 538.36L576.37 538.91L576.49 539.5L576.7 540.92L576.87 542.7L577.03 544.76L577.19 547L577.45 551.11L577.7 555.87L577.95 560.95L578.19 566L578.44 571.41L578.69 576.96L578.94 582.54L579.19 588L579.44 593.07L579.69 598.06L579.94 603.02L580.19 608L580.44 613.02L580.69 618.07L580.94 623.07L581.19 628L581.43 632.61L581.68 637.16L581.93 641.64L582.19 646L582.43 649.92L582.67 653.78L582.92 657.5L583.19 661L583.42 663.74L583.67 666.38L583.92 668.83L584.19 671L584.37 672.31L584.56 673.52L584.76 674.59L584.99 675.5L585.16 676.01L585.34 676.5L585.52 676.87L585.69 677L585.94 676.51L586.15 675.32L586.33 673.72L586.5 672L586.78 668.07L586.98 663.18L587.14 657.71L587.3 652L587.52 643.93L587.72 635.11L587.91 625.98L588.1 617L588.3 608.02L588.49 598.89L588.69 590.07L588.9 582L589.06 576.32L589.21 570.87L589.38 565.99L589.6 562L589.74 560.12L589.88 558.35L590.04 557.02L590.2 556.5L590.37 557.03L590.55 558.38L590.73 560.16L590.9 562L591.13 565.44L591.33 569.54L591.51 573.88L591.7 578L591.88 582.22L592.04 586.8L592.24 590.48L592.5 592L592.69 591.64L592.9 590.69L593.11 589.4L593.3 588L593.59 584.45L593.78 579.9L593.93 574.9L594.1 570L594.3 564.67L594.5 559.09L594.69 553.71L594.9 549L595.04 546.18L595.17 543.53L595.32 541.24L595.5 539.5L595.59 538.9L595.69 538.35L595.79 537.95L595.9 537.8L596.02 537.95L596.15 538.36L596.28 538.91L596.4 539.5L596.61 540.92L596.78 542.7L596.94 544.76L597.1 547L597.36 551.11L597.61 555.87L597.86 560.95L598.1 566L598.35 571.41L598.6 576.96L598.85 582.54L599.1 588L599.35 593.07L599.6 598.06L599.85 603.02L600.1 608L600.35 613.02L600.6 618.07L600.85 623.07L601.1 628L601.34 632.61L601.59 637.16L601.84 641.64L602.1 646L602.34 649.92L602.58 653.78L602.83 657.5L603.1 661L603.33 663.74L603.58 666.38L603.83 668.83L604.1 671L604.28 672.31L604.47 673.52L604.67 674.59L604.9 675.5L605.07 676.01L605.25 676.5L605.43 676.87L605.6 677L605.85 676.51L606.06 675.32L606.24 673.72L606.41 672L606.69 668.07L606.89 663.18L607.05 657.71L607.21 652L607.43 643.93L607.63 635.11L607.82 625.98L608.01 617L608.21 608.02L608.4 598.89L608.6 590.07L608.81 582L608.97 576.32L609.12 570.87L609.29 565.99L609.51 562L609.65 560.12L609.79 558.35L609.95 557.02L610.11 556.5L610.28 557.03L610.46 558.38L610.64 560.16L610.81 562L611.04 565.44L611.24 569.54L611.42 573.88L611.61 578L611.79 582.22L611.95 586.8L612.15 590.48L612.41 592L612.6 591.64L612.81 590.69L613.02 589.4L613.21 588L613.5 584.45L613.69 579.9L613.84 574.9L614.01 570L614.21 564.67L614.41 559.09L614.6 553.71L614.81 549L614.95 546.18L615.08 543.53L615.23 541.24L615.41 539.5L615.5 538.9L615.6 538.35L615.7 537.95L615.81 537.8L615.93 537.95L616.06 538.36L616.19 538.91L616.31 539.5L616.52 540.92L616.69 542.7L616.85 544.76L617.01 547L617.27 551.11L617.52 555.87L617.77 560.95L618.01 566L618.26 571.41L618.51 576.96L618.76 582.54L619.01 588L619.26 593.07L619.51 598.06L619.76 603.02L620.01 608L620.26 613.02L620.51 618.07L620.76 623.07L621.01 628L621.25 632.61L621.5 637.16L621.75 641.64L622.01 646L622.25 649.92L622.49 653.78L622.74 657.5L623.01 661L623.24 663.74L623.49 666.38L623.74 668.83L624.01 671L624.19 672.31L624.38 673.52L624.58 674.59L624.81 675.5L624.98 676.01L625.16 676.5L625.34 676.87L625.51 677L625.76 676.51L625.97 675.32L626.15 673.72L626.32 672L626.6 668.07L626.8 663.18L626.96 657.71L627.12 652L627.34 643.93L627.54 635.11L627.73 625.98L627.92 617L628.12 608.02L628.31 598.89L628.51 590.07L628.72 582L628.88 576.32L629.03 570.87L629.2 565.99L629.42 562L629.56 560.12L629.7 558.35L629.86 557.02L630.02 556.5L630.19 557.03L630.37 558.38L630.55 560.16L630.72 562L630.95 565.44L631.15 569.54L631.33 573.88L631.52 578L631.7 582.22L631.86 586.8L632.06 590.48L632.32 592L632.51 591.64L632.72 590.69L632.93 589.4L633.12 588L633.41 584.45L633.6 579.9L633.75 574.9L633.92 570L634.12 564.67L634.32 559.09L634.51 553.71L634.72 549L634.86 546.18L634.99 543.53L635.14 541.24L635.32 539.5L635.41 538.9L635.51 538.35L635.61 537.95L635.72 537.8L635.84 537.95L635.97 538.36L636.1 538.91L636.22 539.5L636.43 540.92L636.6 542.7L636.76 544.76L636.92 547L637.18 551.11L637.43 555.87L637.68 560.95L637.92 566L638.17 571.41L638.42 576.96L638.67 582.54L638.92 588L639.17 593.07L639.42 598.06L639.67 603.02L639.92 608L640.17 613.02L640.42 618.07L640.67 623.07L640.92 628L641.16 632.61L641.41 637.16L641.66 641.64L641.92 646L642.16 649.92L642.4 653.78L642.65 657.5L642.92 661L643.15 663.74L643.4 666.38L643.65 668.83L643.92 671L644.1 672.31L644.29 673.52L644.49 674.59L644.72 675.5L644.89 676.01L645.07 676.5L645.25 676.87L645.42 677L645.67 676.51L645.88 675.32L646.06 673.72L646.23 672L646.51 668.07L646.71 663.18L646.87 657.71L647.03 652L647.25 643.93L647.45 635.11L647.64 625.98L647.83 617L648.03 608.02L648.22 598.89L648.42 590.07L648.63 582L648.79 576.32L648.94 570.87L649.11 565.99L649.33 562L649.47 560.12L649.61 558.35L649.77 557.02L649.93 556.5L650.1 557.03L650.28 558.38L650.46 560.16L650.63 562L650.86 565.44L651.06 569.54L651.24 573.88L651.43 578L651.61 582.22L651.77 586.8L651.97 590.48L652.23 592L652.42 591.64L652.63 590.69L652.84 589.4L653.03 588L653.32 584.45L653.51 579.9L653.66 574.9L653.83 570L654.03 564.67L654.23 559.09L654.42 553.71L654.63 549L654.77 546.18L654.9 543.53L655.05 541.24L655.23 539.5L655.32 538.9L655.42 538.35L655.52 537.95L655.63 537.8L655.75 537.95L655.88 538.36L656.01 538.91L656.13 539.5L656.34 540.92L656.51 542.7L656.67 544.76L656.83 547L657.09 551.11L657.34 555.87L657.59 560.95L657.83 566L658.08 571.41L658.33 576.96L658.58 582.54L658.83 588L659.08 593.07L659.33 598.06L659.58 603.02L659.83 608L660.08 613.02L660.33 618.07L660.58 623.07L660.83 628L661.07 632.61L661.32 637.16L661.57 641.64L661.83 646L662.07 649.92L662.31 653.78L662.56 657.5L662.83 661L663.06 663.74L663.31 666.38L663.56 668.83L663.83 671L664.01 672.31L664.2 673.52L664.4 674.59L664.63 675.5L664.8 676.01L664.98 676.5L665.16 676.87L665.33 677L665.58 676.51L665.79 675.32L665.97 673.72L666.14 672L666.42 668.07L666.62 663.18L666.78 657.71L666.94 652L667.16 643.93L667.36 635.11L667.55 625.98L667.74 617L667.94 608.02L668.13 598.89L668.33 590.07L668.54 582L668.7 576.32L668.85 570.87L669.02 565.99L669.24 562L669.38 560.12L669.52 558.35L669.68 557.02L669.84 556.5L670.01 557.03L670.19 558.38L670.37 560.16L670.54 562L670.77 565.44L670.97 569.54L671.15 573.88L671.34 578L671.52 582.22L671.68 586.8L671.88 590.48L672.14 592L672.33 591.64L672.54 590.69L672.75 589.4L672.94 588L673.23 584.45L673.42 579.9L673.57 574.9L673.74 570L673.94 564.67L674.14 559.09L674.33 553.71L674.54 549L674.68 546.18L674.81 543.53L674.96 541.24L675.14 539.5L675.23 538.9L675.33 538.35L675.43 537.95L675.54 537.8L675.66 537.95L675.79 538.36L675.92 538.91L676.04 539.5L676.25 540.92L676.42 542.7L676.58 544.76L676.74 547L677 551.11L677.25 555.87L677.5 560.95L677.74 566L677.99 571.41L678.24 576.96L678.49 582.54L678.74 588L678.99 593.07L679.24 598.06L679.49 603.02L679.74 608L679.99 613.02L680.24 618.07L680.49 623.07L680.74 628L680.98 632.61L681.23 637.16L681.48 641.64L681.74 646L681.98 649.92L682.22 653.78L682.47 657.5L682.74 661L682.97 663.74L683.22 666.38L683.47 668.83L683.74 671L683.92 672.31L684.11 673.52L684.31 674.59L684.54 675.5L684.71 676.01L684.89 676.5L685.07 676.87L685.24 677L685.49 676.51L685.7 675.32L685.88 673.72L686.05 672L686.33 668.07L686.53 663.18L686.69 657.71L686.85 652L687.07 643.93L687.27 635.11L687.46 625.98L687.65 617L687.85 608.02L688.04 598.89L688.24 590.07L688.45 582L688.61 576.32L688.76 570.87L688.93 565.99L689.15 562L689.29 560.12L689.43 558.35L689.59 557.02L689.75 556.5L689.92 557.03L690.1 558.38L690.28 560.16L690.45 562L690.68 565.44L690.88 569.54L691.06 573.88L691.25 578L691.43 582.22L691.59 586.8L691.79 590.48L692.05 592L692.24 591.64L692.45 590.69L692.66 589.4L692.85 588L693.14 584.45L693.33 579.9L693.48 574.9L693.65 570L693.85 564.67L694.05 559.09L694.24 553.71L694.45 549L694.59 546.18L694.72 543.53L694.87 541.24L695.05 539.5L695.14 538.9L695.24 538.35L695.34 537.95L695.45 537.8L695.57 537.95L695.7 538.36L695.83 538.91L695.95 539.5L696.16 540.92L696.33 542.7L696.49 544.76L696.65 547L696.91 551.11L697.16 555.87L697.41 560.95L697.65 566L697.9 571.41L698.15 576.96L698.4 582.54L698.65 588L698.9 593.07L699.15 598.06L699.4 603.02L699.65 608L699.9 613.02L700.15 618.07L700.4 623.07L700.65 628L700.89 632.61L701.14 637.16L701.39 641.64L701.65 646L701.89 649.92L702.13 653.78L702.38 657.5L702.65 661L702.88 663.74L703.13 666.38L703.38 668.83L703.65 671L703.83 672.31L704.02 673.52L704.22 674.59L704.45 675.5L704.62 676.01L704.8 676.5L704.98 676.87L705.15 677L705.4 676.51L705.61 675.32L705.79 673.72L705.96 672L706.24 668.07L706.44 663.18L706.6 657.71L706.76 652L706.98 643.93L707.18 635.11L707.37 625.98L707.56 617L707.76 608.02L707.95 598.89L708.15 590.07L708.36 582L708.52 576.32L708.67 570.87L708.84 565.99L709.06 562L709.2 560.12L709.34 558.35L709.5 557.02L709.66 556.5L709.83 557.03L710.01 558.38L710.19 560.16L710.36 562L710.59 565.44L710.79 569.54L710.97 573.88L711.16 578L711.34 582.22L711.5 586.8L711.7 590.48L711.96 592L712.15 591.64L712.36 590.69L712.57 589.4L712.76 588L713.05 584.45L713.24 579.9L713.39 574.9L713.56 570L713.76 564.67L713.96 559.09L714.15 553.71L714.36 549L714.5 546.18L714.63 543.53L714.78 541.24L714.96 539.5L715.05 538.9L715.15 538.35L715.25 537.95L715.36 537.8L715.48 537.95L715.61 538.36L715.74 538.91L715.86 539.5L716.07 540.92L716.24 542.7L716.4 544.76L716.56 547L716.82 551.11L717.07 555.87L717.32 560.95L717.56 566L717.81 571.41L718.06 576.96L718.31 582.54L718.56 588L718.81 593.07L719.06 598.06L719.31 603.02L719.56 608L719.81 613.02L720.06 618.07L720.31 623.07L720.56 628L720.8 632.61L721.05 637.16L721.3 641.64L721.56 646L721.8 649.92L722.04 653.78L722.29 657.5L722.56 661L722.79 663.74L723.04 666.38L723.29 668.83L723.56 671L723.74 672.31L723.93 673.52L724.13 674.59L724.36 675.5L724.53 676.01L724.71 676.5L724.89 676.87L725.06 677L725.31 676.51L725.52 675.32L725.7 673.72L725.87 672L726.15 668.07L726.35 663.18L726.51 657.71L726.67 652L726.89 643.93L727.09 635.11L727.28 625.98L727.47 617L727.67 608.02L727.86 598.89L728.06 590.07L728.27 582L728.43 576.32L728.58 570.87L728.75 565.99L728.97 562L729.11 560.12L729.25 558.35L729.41 557.02L729.57 556.5L729.74 557.03L729.92 558.38L730.1 560.16L730.27 562L730.5 565.44L730.7 569.54L730.88 573.88L731.07 578L731.25 582.22L731.41 586.8L731.61 590.48L731.87 592L732.06 591.64L732.27 590.69L732.48 589.4L732.67 588L732.96 584.45L733.15 579.9L733.3 574.9L733.47 570L733.67 564.67L733.87 559.09L734.06 553.71L734.27 549L734.41 546.18L734.54 543.53L734.69 541.24L734.87 539.5L734.96 538.9L735.06 538.35L735.16 537.95L735.27 537.8L735.39 537.95L735.52 538.36L735.65 538.91L735.77 539.5L735.98 540.92L736.15 542.7L736.31 544.76L736.47 547L736.73 551.11L736.98 555.87L737.23 560.95L737.47 566L737.72 571.41L737.97 576.96L738.22 582.54L738.47 588L738.72 593.07L738.97 598.06L739.22 603.02L739.47 608L739.72 613.02L739.97 618.07L740.22 623.07L740.47 628L740.71 632.61L740.96 637.16L741.21 641.64L741.47 646L741.71 649.92L741.95 653.78L742.2 657.5L742.47 661L742.7 663.74L742.95 666.38L743.2 668.83L743.47 671L743.65 672.31L743.84 673.52L744.04 674.59L744.27 675.5L744.44 676.01L744.62 676.5L744.8 676.87L744.97 677L745.22 676.51L745.43 675.32L745.61 673.72L745.78 672L746.06 668.07L746.26 663.18L746.42 657.71L746.58 652L746.8 643.93L747 635.11L747.19 625.98L747.38 617L747.58 608.02L747.77 598.89L747.97 590.07L748.18 582L748.34 576.32L748.49 570.87L748.66 565.99L748.88 562L749.02 560.12L749.16 558.35L749.32 557.02L749.48 556.5L749.65 557.03L749.83 558.38L750.01 560.16L750.18 562L750.41 565.44L750.61 569.54L750.79 573.88L750.98 578L751.16 582.22L751.32 586.8L751.52 590.48L751.78 592L751.97 591.64L752.18 590.69L752.39 589.4L752.58 588L752.87 584.45L753.06 579.9L753.21 574.9L753.38 570L753.58 564.67L753.78 559.09L753.97 553.71L754.18 549L754.32 546.18L754.45 543.53L754.6 541.24L754.78 539.5L754.87 538.9L754.97 538.35L755.07 537.95L755.18 537.8L755.3 537.95L755.43 538.36L755.56 538.91L755.68 539.5L755.89 540.92L756.06 542.7L756.22 544.76L756.38 547L756.64 551.11L756.89 555.87L757.14 560.95L757.38 566L757.63 571.41L757.88 576.96L758.13 582.54L758.38 588L758.63 593.07L758.88 598.06L759.13 603.02L759.38 608L759.63 613.02L759.88 618.07L760.13 623.07L760.38 628L760.62 632.61L760.87 637.16L761.12 641.64L761.38 646L761.62 649.92L761.86 653.78L762.11 657.5L762.38 661L762.61 663.74L762.86 666.38L763.11 668.83L763.38 671L763.56 672.31L763.75 673.52L763.95 674.59L764.18 675.5L764.35 676.01L764.53 676.5L764.71 676.87L764.88 677L765.13 676.51L765.34 675.32L765.52 673.72L765.69 672L765.97 668.07L766.17 663.18L766.33 657.71L766.49 652L766.71 643.93L766.91 635.11L767.1 625.98L767.29 617L767.49 608.02L767.68 598.89L767.88 590.07L768.09 582L768.25 576.32L768.4 570.87L768.57 565.99L768.79 562L768.93 560.12L769.07 558.35L769.23 557.02L769.39 556.5L769.56 557.03L769.74 558.38L769.92 560.16L770.09 562L770.32 565.44L770.52 569.54L770.7 573.88L770.89 578L771.07 582.22L771.23 586.8L771.43 590.48L771.69 592L771.88 591.64L772.09 590.69L772.3 589.4L772.49 588L772.78 584.45L772.97 579.9L773.12 574.9L773.29 570L773.49 564.67L773.69 559.09L773.88 553.71L774.09 549L774.23 546.18L774.36 543.53L774.51 541.24L774.69 539.5L774.78 538.9L774.88 538.35L774.98 537.95L775.09 537.8L775.21 537.95L775.34 538.36L775.47 538.91L775.59 539.5L775.8 540.92L775.97 542.7L776.13 544.76L776.29 547L776.55 551.11L776.8 555.87L777.05 560.95L777.29 566L777.54 571.41L777.79 576.96L778.04 582.54L778.29 588L778.54 593.07L778.79 598.06L779.04 603.02L779.29 608L779.54 613.02L779.79 618.07L780.04 623.07L780.29 628L780.53 632.61L780.78 637.16L781.03 641.64L781.29 646L781.53 649.92L781.77 653.78L782.02 657.5L782.29 661L782.52 663.74L782.77 666.38L783.02 668.83L783.29 671L783.47 672.31L783.66 673.52L783.86 674.59L784.09 675.5L784.26 676.01L784.44 676.5L784.62 676.87L784.79 677L785.04 676.51L785.25 675.32L785.43 673.72L785.6 672L785.88 668.07L786.08 663.18L786.24 657.71L786.4 652L786.62 643.93L786.82 635.11L787.01 625.98L787.2 617L787.4 608.02L787.59 598.89L787.79 590.07L788 582L788.16 576.32L788.31 570.87L788.48 565.99L788.7 562L788.84 560.12L788.98 558.35L789.14 557.02L789.3 556.5L789.47 557.03L789.65 558.38L789.83 560.16L790 562L790.23 565.44L790.43 569.54L790.61 573.88L790.8 578L790.98 582.22L791.14 586.8L791.34 590.48L791.6 592L791.79 591.64L792 590.69L792.21 589.4L792.4 588L792.69 584.45L792.88 579.9L793.03 574.9L793.2 570L793.4 564.67L793.6 559.09L793.79 553.71L794 549L794.14 546.18L794.27 543.53L794.42 541.24L794.6 539.5L794.69 538.9L794.79 538.35L794.89 537.95L795 537.8L795.12 537.95L795.25 538.36L795.38 538.91L795.5 539.5L795.71 540.92L795.88 542.7L796.04 544.76L796.2 547L796.46 551.11L796.71 555.87L796.96 560.95L797.2 566L797.45 571.41L797.7 576.96L797.95 582.54L798.2 588L798.45 593.07L798.7 598.06L798.95 603.02L799.2 608L799.45 613.02L799.7 618.07L799.95 623.07L800.2 628L800.44 632.61L800.69 637.16L800.94 641.64L801.2 646L801.44 649.92L801.68 653.78L801.93 657.5L802.2 661L802.43 663.74L802.68 666.38L802.93 668.83L803.2 671L803.38 672.31L803.57 673.52L803.77 674.59L804 675.5L804.17 676.01L804.35 676.5L804.53 676.87L804.7 677L804.95 676.51L805.16 675.32L805.34 673.72L805.51 672L805.79 668.07L805.99 663.18L806.15 657.71L806.31 652L806.53 643.93L806.73 635.11L806.92 625.98L807.11 617L807.31 608.02L807.5 598.89L807.7 590.07L807.91 582L808.07 576.32L808.22 570.87L808.39 565.99L808.61 562L808.75 560.12L808.89 558.35L809.05 557.02L809.21 556.5L809.38 557.03L809.56 558.38L809.74 560.16L809.91 562L810.14 565.44L810.34 569.54L810.52 573.88L810.71 578L810.89 582.22L811.05 586.8L811.25 590.48L811.51 592L811.7 591.64L811.91 590.69L812.12 589.4L812.31 588L812.6 584.45L812.79 579.9L812.94 574.9L813.11 570L813.31 564.67L813.51 559.09L813.7 553.71L813.91 549L814.05 546.18L814.18 543.53L814.33 541.24L814.51 539.5L814.6 538.9L814.7 538.35L814.8 537.95L814.91 537.8L815.03 537.95L815.16 538.36L815.29 538.91L815.41 539.5L815.62 540.92L815.79 542.7L815.95 544.76L816.11 547L816.37 551.11L816.62 555.87L816.87 560.95L817.11 566L817.36 571.41L817.61 576.96L817.86 582.54L818.11 588L818.36 593.07L818.61 598.06L818.86 603.02L819.11 608L819.36 613.02L819.61 618.07L819.86 623.07L820.11 628L820.35 632.61L820.6 637.16L820.85 641.64L821.11 646L821.35 649.92L821.59 653.78L821.84 657.5L822.11 661L822.34 663.74L822.59 666.38L822.84 668.83L823.11 671L823.29 672.31L823.48 673.52L823.68 674.59L823.91 675.5L824.08 676.01L824.26 676.5L824.44 676.87L824.61 677L824.86 676.51L825.07 675.32L825.25 673.72L825.42 672L825.7 668.07L825.9 663.18L826.06 657.71L826.22 652L826.44 643.93L826.64 635.11L826.83 625.98L827.02 617L827.22 608.02L827.41 598.89L827.61 590.07L827.82 582L827.98 576.32L828.13 570.87L828.3 565.99L828.52 562L828.66 560.12L828.8 558.35L828.96 557.02L829.12 556.5L829.29 557.03L829.47 558.38L829.65 560.16L829.82 562L830.05 565.44L830.25 569.54L830.43 573.88L830.62 578L830.8 582.22L830.96 586.8L831.16 590.48L831.42 592L831.61 591.64L831.82 590.69L832.03 589.4L832.22 588L832.51 584.45L832.7 579.9L832.85 574.9L833.02 570L833.22 564.67L833.42 559.09L833.61 553.71L833.82 549L833.96 546.18L834.09 543.53L834.24 541.24L834.42 539.5L834.51 538.9L834.61 538.35L834.71 537.95L834.82 537.8L834.94 537.95L835.07 538.36L835.2 538.91L835.32 539.5L835.53 540.92L835.7 542.7L835.86 544.76L836.02 547L836.28 551.11L836.53 555.87L836.78 560.95L837.02 566L837.27 571.41L837.52 576.96L837.77 582.54L838.02 588L838.27 593.07L838.52 598.06L838.77 603.02L839.02 608L839.27 613.02L839.52 618.07L839.77 623.07L840.02 628L840.26 632.61L840.51 637.16L840.76 641.64L841.02 646L841.26 649.92L841.5 653.78L841.75 657.5L842.02 661L842.25 663.74L842.5 666.38L842.75 668.83L843.02 671L843.2 672.31L843.39 673.52L843.59 674.59L843.82 675.5L843.99 676.01L844.17 676.5L844.35 676.87L844.52 677L844.77 676.51L844.98 675.32L845.16 673.72L845.33 672L845.61 668.07L845.81 663.18L845.97 657.71L846.13 652L846.35 643.93L846.55 635.11L846.74 625.98L846.93 617L847.13 608.02L847.32 598.89L847.52 590.07L847.73 582L847.89 576.32L848.04 570.87L848.21 565.99L848.43 562L848.57 560.12L848.71 558.35L848.87 557.02L849.03 556.5L849.2 557.03L849.38 558.38L849.56 560.16L849.73 562L849.96 565.44L850.16 569.54L850.34 573.88L850.53 578L850.71 582.22L850.87 586.8L851.07 590.48L851.33 592L851.52 591.64L851.73 590.69L851.94 589.4L852.13 588L852.42 584.45L852.61 579.9L852.76 574.9L852.93 570L853.13 564.67L853.33 559.09L853.52 553.71L853.73 549L853.87 546.18L854 543.53L854.15 541.24L854.33 539.5L854.42 538.9L854.52 538.35L854.62 537.95L854.73 537.8L854.85 537.95L854.98 538.36L855.11 538.91L855.23 539.5L855.44 540.92L855.61 542.7L855.77 544.76L855.93 547L856.19 551.11L856.44 555.87L856.69 560.95L856.93 566L857.18 571.41L857.43 576.96L857.68 582.54L857.93 588L858.18 593.07L858.43 598.06L858.68 603.02L858.93 608L859.18 613.02L859.43 618.07L859.68 623.07L859.93 628L860.17 632.61L860.42 637.16L860.67 641.64L860.93 646L861.17 649.92L861.41 653.78L861.66 657.5L861.93 661L862.16 663.74L862.41 666.38L862.66 668.83L862.93 671L863.11 672.31L863.3 673.52L863.5 674.59L863.73 675.5L863.9 676.01L864.08 676.5L864.26 676.87L864.43 677L864.68 676.51L864.89 675.32L865.07 673.72L865.24 672L865.52 668.07L865.72 663.18L865.88 657.71L866.04 652L866.26 643.93L866.46 635.11L866.65 625.98L866.84 617L867.04 608.02L867.23 598.89L867.43 590.07L867.64 582L867.8 576.32L867.95 570.87L868.12 565.99L868.34 562L868.48 560.12L868.62 558.35L868.78 557.02L868.94 556.5L869.11 557.03L869.29 558.38L869.47 560.16L869.64 562L869.87 565.44L870.07 569.54L870.25 573.88L870.44 578L870.62 582.22L870.78 586.8L870.98 590.48L871.24 592L871.43 591.64L871.64 590.69L871.85 589.4L872.04 588L872.33 584.45L872.52 579.9L872.67 574.9L872.84 570L873.04 564.67L873.24 559.09L873.43 553.71L873.64 549L873.78 546.18L873.91 543.53L874.06 541.24L874.24 539.5L874.33 538.9L874.43 538.35L874.53 537.95L874.64 537.8L874.76 537.95L874.89 538.36L875.02 538.91L875.14 539.5L875.35 540.92L875.52 542.7L875.68 544.76L875.84 547L876.1 551.11L876.35 555.87L876.6 560.95L876.84 566L877.09 571.41L877.34 576.96L877.59 582.54L877.84 588L878.09 593.07L878.34 598.06L878.59 603.02L878.84 608L879.09 613.02L879.34 618.07L879.59 623.07L879.84 628L880.08 632.61L880.33 637.16L880.58 641.64L880.84 646L881.08 649.92L881.32 653.78L881.57 657.5L881.84 661L882.07 663.74L882.32 666.38L882.57 668.83L882.84 671L883.02 672.31L883.21 673.52L883.41 674.59L883.64 675.5L883.81 676.01L883.99 676.5L884.17 676.87L884.34 677L884.59 676.51L884.8 675.32L884.98 673.72L885.15 672L885.43 668.07L885.63 663.18L885.79 657.71L885.95 652L886.17 643.93L886.37 635.11L886.56 625.98L886.75 617L886.95 608.02L887.14 598.89L887.34 590.07L887.55 582L887.71 576.32L887.86 570.87L888.03 565.99L888.25 562L888.39 560.12L888.53 558.35L888.69 557.02L888.85 556.5L889.02 557.03L889.2 558.38L889.38 560.16L889.55 562L889.78 565.44L889.98 569.54L890.16 573.88L890.35 578L890.53 582.22L890.69 586.8L890.89 590.48L891.15 592L891.34 591.64L891.55 590.69L891.76 589.4L891.95 588L892.24 584.45L892.43 579.9L892.58 574.9L892.75 570L892.95 564.67L893.15 559.09L893.34 553.71L893.55 549L893.69 546.18L893.82 543.53L893.97 541.24L894.15 539.5L894.24 538.9L894.34 538.35L894.44 537.95L894.55 537.8L894.67 537.95L894.8 538.36L894.93 538.91L895.05 539.5L895.26 540.92L895.43 542.7L895.59 544.76L895.75 547L896.01 551.11L896.26 555.87L896.51 560.95L896.75 566L897 571.41L897.25 576.96L897.5 582.54L897.75 588L898 593.07L898.25 598.06L898.5 603.02L898.75 608L899 613.02L899.25 618.07L899.5 623.07L899.75 628L899.99 632.61L900.24 637.16L900.49 641.64L900.75 646L900.99 649.92L901.23 653.78L901.48 657.5L901.75 661L901.98 663.74L902.23 666.38L902.48 668.83L902.75 671L902.93 672.31L903.12 673.52L903.32 674.59L903.55 675.5L903.72 676.01L903.9 676.5L904.08 676.87L904.25 677L904.5 676.51L904.71 675.32L904.89 673.72L905.06 672L905.34 668.07L905.54 663.18L905.7 657.71L905.86 652L906.08 643.93L906.28 635.11L906.47 625.98L906.66 617L906.86 608.02L907.05 598.89L907.25 590.07L907.46 582L907.62 576.32L907.77 570.87L907.94 565.99L908.16 562L908.3 560.12L908.44 558.35L908.6 557.02L908.76 556.5L908.93 557.03L909.11 558.38L909.29 560.16L909.46 562L909.69 565.44L909.89 569.54L910.07 573.88L910.26 578L910.44 582.22L910.6 586.8L910.8 590.48L911.06 592L911.25 591.64L911.46 590.69L911.67 589.4L911.86 588L912.15 584.45L912.34 579.9L912.49 574.9L912.66 570L912.86 564.67L913.06 559.09L913.25 553.71L913.46 549L913.6 546.18L913.73 543.53L913.88 541.24L914.06 539.5L914.15 538.9L914.25 538.35L914.35 537.95L914.46 537.8L914.58 537.95L914.71 538.36L914.84 538.91L914.96 539.5L915.17 540.92L915.34 542.7L915.5 544.76L915.66 547L915.92 551.11L916.17 555.87L916.42 560.95L916.66 566L916.91 571.41L917.16 576.96L917.41 582.54L917.66 588L917.91 593.07L918.16 598.06L918.41 603.02L918.66 608L918.91 613.02L919.16 618.07L919.41 623.07L919.66 628L919.9 632.61L920.15 637.16L920.4 641.64L920.66 646L920.9 649.92L921.14 653.78L921.39 657.5L921.66 661L921.89 663.74L922.14 666.38L922.39 668.83L922.66 671L922.84 672.31L923.03 673.52L923.23 674.59L923.46 675.5L923.63 676.01L923.81 676.5L923.99 676.87L924.16 677L924.41 676.51L924.62 675.32L924.8 673.72L924.97 672L925.25 668.07L925.45 663.18L925.61 657.71L925.77 652L925.99 643.93L926.19 635.11L926.38 625.98L926.57 617L926.77 608.02L926.96 598.89L927.16 590.07L927.37 582L927.53 576.32L927.68 570.87L927.85 565.99L928.07 562L928.21 560.12L928.35 558.35L928.51 557.02L928.67 556.5L928.87 557.36L929.1 559.25L929.29 561.14L929.37 562" fill="none" stroke="#ff0000" stroke-width="5.3" stroke-linejoin="round" stroke-linecap="butt" shape-rendering="crispEdges" clip-path="url(#ca)"/>
<g fill="none" stroke="#000" stroke-width="5">
<rect x="254.5" y="152.5" width="674" height="576"/>
</g>
<rect x="257" y="438" width="18" height="5" fill="#000000"/>
<path d="M253 725 L347 725" stroke="#ff0000" stroke-width="4" shape-rendering="crispEdges"/>
<rect x="589" y="707" width="5" height="19" fill="#000000"/>
<rect x="677" y="180" width="241" height="176" fill="#000000"/>
<rect x="666.5" y="169.5" width="240" height="175" fill="#fff" stroke="#000" stroke-width="1" shape-rendering="crispEdges"/>
<line x1="672.8" y1="200.4" x2="773.5" y2="200.4" stroke="#0000ff" stroke-width="5.2" stroke-linecap="round"/>
<line x1="672.8" y1="256.7" x2="773.5" y2="256.7" stroke="#00ffff" stroke-width="5.2" stroke-linecap="round"/>
<line x1="672.8" y1="313.2" x2="773.5" y2="313.2" stroke="#ff0000" stroke-width="5.2" stroke-linecap="round"/>
<text x="784.6" y="217" fill="#000000" filter="url(#crisp)" xml:space="preserve"><tspan font-family="'Liberation Serif', 'Times New Roman', serif" font-size="45" font-style="italic">l</tspan><tspan font-family="'Liberation Sans', Arial, sans-serif" font-size="45"> = 1</tspan></text>
<text x="784.6" y="272.6" fill="#000000" filter="url(#crisp)" xml:space="preserve"><tspan font-family="'Liberation Serif', 'Times New Roman', serif" font-size="45" font-style="italic">l</tspan><tspan font-family="'Liberation Sans', Arial, sans-serif" font-size="45"> = 3</tspan></text>
<text x="784.6" y="328.7" fill="#000000" filter="url(#crisp)" xml:space="preserve"><tspan font-family="'Liberation Serif', 'Times New Roman', serif" font-size="45" font-style="italic">l</tspan><tspan font-family="'Liberation Sans', Arial, sans-serif" font-size="45"> = 10</tspan></text>
<text x="50.86" y="73.65" fill="#000000" filter="url(#crisp)" xml:space="preserve"><tspan font-family="'Liberation Sans', Arial, sans-serif" font-size="63" font-weight="bold">(a)</tspan></text>
<text x="160.22" y="169.85" fill="#000000" filter="url(#crisp)" xml:space="preserve"><tspan font-family="'Liberation Sans', Arial, sans-serif" font-size="58.5">20</tspan></text>
<text x="160.22" y="457.85" fill="#000000" filter="url(#crisp)" xml:space="preserve"><tspan font-family="'Liberation Sans', Arial, sans-serif" font-size="58.5">10</tspan></text>
<text x="192.75" y="745.85" fill="#000000" filter="url(#crisp)" xml:space="preserve"><tspan font-family="'Liberation Sans', Arial, sans-serif" font-size="58.5">0</tspan></text>
<text x="238.23" y="805.85" fill="#000000" filter="url(#crisp)" xml:space="preserve"><tspan font-family="'Liberation Sans', Arial, sans-serif" font-size="58.5">0</tspan></text>
<text x="526.34" y="805.85" fill="#000000" filter="url(#crisp)" xml:space="preserve"><tspan font-family="'Liberation Sans', Arial, sans-serif" font-size="58.5">1000</tspan></text>
<text x="863.6" y="805.85" fill="#000000" filter="url(#crisp)" xml:space="preserve"><tspan font-family="'Liberation Sans', Arial, sans-serif" font-size="58.5">2000</tspan></text>
<text x="450.51" y="867.8" fill="#000000" filter="url(#crisp)" xml:space="preserve"><tspan font-family="'Liberation Sans', Arial, sans-serif" font-size="58.5">Roundtrips</tspan></text>
<text x="0" y="0" fill="#000000" filter="url(#crisp)" xml:space="preserve" transform="translate(108,717.4) rotate(-90)" textLength="554.03" lengthAdjust="spacing"><tspan font-family="'Liberation Sans', Arial, sans-serif" font-size="58.5">Intracavity power (W)</tspan></text>
<path d="M1480 724.5L1489.57 724.67L1513.83 725.05L1546.09 725.43L1579.67 725.6L1607.86 725.36L1624 724.5L1625.4 724.26L1626.48 724.02L1627.35 723.77L1628.09 723.48L1628.81 723.13L1629.6 722.7L1630.49 722.18L1631.35 721.59L1632.19 720.95L1633 720.24L1633.77 719.45L1634.5 718.6L1635.31 717.49L1636.07 716.3L1636.78 715.01L1637.43 713.6L1638.04 712.07L1638.6 710.4L1639.34 707.52L1639.94 704.26L1640.43 700.7L1640.84 696.94L1641.22 693.04L1641.6 689.1L1642.05 684.1L1642.43 678.86L1642.75 673.42L1643.04 667.83L1643.32 662.14L1643.6 656.4L1643.91 649.85L1644.18 643.11L1644.44 636.24L1644.69 629.3L1644.94 622.37L1645.2 615.5L1645.47 608.68L1645.75 601.87L1646.03 595.05L1646.3 588.24L1646.56 581.42L1646.8 574.6L1647.02 567.77L1647.23 560.94L1647.42 554.1L1647.61 547.26L1647.8 540.43L1648 533.6L1648.21 526.73L1648.43 519.79L1648.66 512.86L1648.88 505.99L1649.09 499.25L1649.3 492.7L1649.47 487.06L1649.64 481.59L1649.8 476.22L1649.96 470.88L1650.13 465.5L1650.3 460L1650.49 454.06L1650.68 448.01L1650.88 441.9L1651.09 435.82L1651.29 429.83L1651.5 424L1651.69 418.84L1651.89 413.8L1652.09 408.83L1652.29 403.9L1652.49 398.97L1652.7 394L1652.91 388.99L1653.13 383.96L1653.35 378.94L1653.57 373.92L1653.79 368.94L1654 364L1654.2 359.25L1654.4 354.51L1654.59 349.8L1654.79 345.14L1654.99 340.53L1655.2 336L1655.4 331.85L1655.59 327.73L1655.79 323.67L1656.01 319.67L1656.24 315.78L1656.5 312L1656.74 308.76L1657 305.54L1657.27 302.38L1657.55 299.36L1657.86 296.55L1658.2 294L1658.43 292.44L1658.66 290.98L1658.9 289.6L1659.16 288.32L1659.45 287.12L1659.8 286L1660.07 285.22L1660.35 284.47L1660.65 283.77L1660.99 283.13L1661.36 282.57L1661.8 282.1L1662.23 281.77L1662.7 281.49L1663.21 281.28L1663.74 281.12L1664.27 281.02L1664.8 281L1665.38 281.08L1665.96 281.27L1666.55 281.55L1667.15 281.86L1667.77 282.19L1668.4 282.5L1669.17 282.86L1669.98 283.25L1670.8 283.66L1671.63 284.07L1672.47 284.45L1673.3 284.8L1674.07 285.1L1674.81 285.39L1675.55 285.66L1676.33 285.91L1677.17 286.12L1678.1 286.3L1679.57 286.48L1681.02 286.56L1682.63 286.56L1684.55 286.53L1686.96 286.5L1690 286.5L1739.29 286.62L1829.55 286.66L1938.53 286.63L2043.94 286.58L2123.52 286.52L2155 286.5" fill="none" stroke="#0000ff" stroke-width="4.8" stroke-linejoin="round" stroke-linecap="butt" shape-rendering="crispEdges" clip-path="url(#cb)"/>
<path d="M1480 724.5L1490.63 724.71L1517.49 725.18L1553.07 725.64L1589.86 725.85L1620.34 725.56L1637 724.5L1638.07 724.26L1638.87 724.03L1639.5 723.79L1640.03 723.5L1640.53 723.15L1641.1 722.7L1641.87 722.01L1642.61 721.21L1643.32 720.31L1643.99 719.3L1644.62 718.2L1645.2 717L1645.95 715.04L1646.59 712.83L1647.14 710.41L1647.62 707.8L1648.06 705.06L1648.5 702.2L1649.06 697.95L1649.51 693.34L1649.9 688.44L1650.24 683.34L1650.57 678.1L1650.9 672.8L1651.29 666.36L1651.65 659.64L1651.98 652.72L1652.3 645.71L1652.6 638.71L1652.9 631.8L1653.19 625L1653.47 618.2L1653.74 611.4L1654 604.6L1654.26 597.81L1654.5 591L1654.73 584.17L1654.96 577.34L1655.17 570.51L1655.38 563.67L1655.59 556.83L1655.8 550L1656.02 543.15L1656.24 536.3L1656.45 529.44L1656.67 522.59L1656.89 515.77L1657.1 509L1657.3 502.39L1657.51 495.75L1657.71 489.14L1657.91 482.61L1658.11 476.21L1658.3 470L1658.47 464.73L1658.63 459.65L1658.79 454.68L1658.96 449.72L1659.12 444.69L1659.3 439.5L1659.51 433.63L1659.72 427.63L1659.94 421.55L1660.17 415.42L1660.39 409.29L1660.6 403.2L1660.8 397.15L1660.99 391.1L1661.17 385.05L1661.36 379L1661.57 372.95L1661.8 366.9L1662.06 360.71L1662.33 354.38L1662.62 348.05L1662.93 341.86L1663.25 335.96L1663.6 330.5L1663.86 326.67L1664.11 322.99L1664.37 319.48L1664.66 316.14L1665 312.97L1665.4 310L1665.72 307.88L1666.05 305.8L1666.41 303.82L1666.81 301.99L1667.26 300.36L1667.8 299L1668.14 298.29L1668.5 297.62L1668.88 297.02L1669.29 296.53L1669.72 296.17L1670.2 296L1670.82 296.09L1671.51 296.47L1672.24 297.04L1673 297.71L1673.76 298.39L1674.5 299L1675.28 299.6L1676.05 300.25L1676.82 300.9L1677.62 301.55L1678.44 302.16L1679.3 302.7L1680.24 303.2L1681.22 303.65L1682.24 304.06L1683.27 304.43L1684.33 304.78L1685.4 305.1L1686.55 305.42L1687.74 305.7L1688.94 305.95L1690.16 306.17L1691.38 306.36L1692.6 306.5L1693.69 306.59L1694.63 306.63L1695.57 306.63L1696.68 306.62L1698.1 306.6L1700 306.6L1745.62 306.68L1833.21 306.7L1940.36 306.69L2044.66 306.65L2123.68 306.62L2155 306.6" fill="none" stroke="#00ffff" stroke-width="4.8" stroke-linejoin="round" stroke-linecap="butt" shape-rendering="crispEdges" clip-path="url(#cb)"/>
<path d="M1480 727.2L1488.66 727.17L1511.48 727.09L1543.75 726.97L1580.74 726.82L1617.73 726.66L1650 726.5L1679.07 726.32L1709.01 726.1L1738.96 725.87L1768.02 725.65L1795.33 725.45L1820 725.3L1835.58 725.24L1850.55 725.22L1864.69 725.21L1877.79 725.19L1889.63 725.13L1900 725L1905.12 724.92L1909.8 724.86L1914.1 724.78L1918.03 724.67L1921.66 724.48L1925 724.2L1926.94 723.97L1928.7 723.73L1930.33 723.45L1931.88 723.14L1933.42 722.79L1935 722.4L1936.58 721.99L1938.15 721.56L1939.71 721.1L1941.24 720.58L1942.74 719.98L1944.2 719.3L1945.64 718.51L1947.04 717.64L1948.41 716.69L1949.75 715.68L1951.04 714.62L1952.3 713.5L1953.58 712.29L1954.84 711.02L1956.05 709.69L1957.21 708.3L1958.3 706.84L1959.3 705.3L1960.27 703.54L1961.13 701.66L1961.91 699.7L1962.64 697.69L1963.32 695.68L1964 693.7L1964.64 691.76L1965.22 689.81L1965.77 687.86L1966.3 685.9L1966.84 683.95L1967.4 682L1967.98 680.08L1968.56 678.16L1969.14 676.25L1969.73 674.34L1970.32 672.42L1970.9 670.5L1971.48 668.56L1972.07 666.61L1972.65 664.65L1973.23 662.7L1973.82 660.75L1974.4 658.8L1974.98 656.86L1975.57 654.93L1976.15 653L1976.73 651.06L1977.32 649.13L1977.9 647.2L1978.48 645.27L1979.05 643.33L1979.61 641.39L1980.19 639.46L1980.78 637.53L1981.4 635.6L1982.03 633.64L1982.67 631.67L1983.32 629.69L1984 627.74L1984.72 625.84L1985.5 624L1986.28 622.36L1987.11 620.76L1987.97 619.21L1988.86 617.68L1989.77 616.18L1990.7 614.7L1991.6 613.27L1992.5 611.85L1993.42 610.46L1994.39 609.1L1995.4 607.78L1996.5 606.5L1997.71 605.21L1998.97 603.94L2000.3 602.71L2001.69 601.54L2003.16 600.47L2004.7 599.5L2006.46 598.6L2008.34 597.82L2010.3 597.14L2012.3 596.54L2014.32 596L2016.3 595.5L2018.21 595.07L2020.11 594.72L2022.01 594.42L2023.94 594.17L2025.9 593.93L2027.9 593.7L2030.13 593.45L2032.4 593.23L2034.7 593.04L2037.05 592.87L2039.45 592.72L2041.9 592.6L2044.62 592.5L2047.23 592.45L2049.92 592.42L2052.83 592.42L2056.13 592.41L2060 592.4L2073.72 592.36L2093.18 592.35L2114.72 592.36L2134.65 592.38L2149.3 592.39L2155 592.4" fill="none" stroke="#ff0000" stroke-width="4.4" stroke-linejoin="round" stroke-linecap="butt" shape-rendering="crispEdges" clip-path="url(#cb)"/>
<g fill="none" stroke="#000" stroke-width="5">
<rect x="1480.5" y="151.5" width="674" height="576"/>
</g>
<rect x="1477" y="149" width="3" height="581" fill="#000000"/>
<rect x="1483" y="437" width="18" height="5" fill="#000000"/>
<rect x="1815" y="707" width="5" height="18" fill="#000000"/>
<path d="M1480 727.2 L1650 726.5 L1820 725.3 L1900 725" fill="none" stroke="#ff0000" stroke-width="4.2"/>
<rect x="1903" y="180" width="241" height="176" fill="#000000"/>
<rect x="1892" y="169" width="240" height="175" fill="#fff" stroke="#000" stroke-width="2" shape-rendering="crispEdges"/>
<line x1="1898.6" y1="200.4" x2="1999.4" y2="200.4" stroke="#0000ff" stroke-width="5.2" stroke-linecap="round"/>
<line x1="1898.6" y1="256.3" x2="1999.4" y2="256.3" stroke="#00ffff" stroke-width="5.2" stroke-linecap="round"/>
<line x1="1898.6" y1="312.6" x2="1999.4" y2="312.6" stroke="#ff0000" stroke-width="5.2" stroke-linecap="round"/>
<text x="2010.9" y="215.8" fill="#000000" filter="url(#crisp)" xml:space="preserve"><tspan font-family="'Liberation Serif', 'Times New Roman', serif" font-size="45" font-style="italic">l</tspan><tspan font-family="'Liberation Sans', Arial, sans-serif" font-size="45"> = 1</tspan></text>
<text x="2010.9" y="272.6" fill="#000000" filter="url(#crisp)" xml:space="preserve"><tspan font-family="'Liberation Serif', 'Times New Roman', serif" font-size="45" font-style="italic">l</tspan><tspan font-family="'Liberation Sans', Arial, sans-serif" font-size="45"> = 3</tspan></text>
<text x="2010.9" y="328.9" fill="#000000" filter="url(#crisp)" xml:space="preserve"><tspan font-family="'Liberation Serif', 'Times New Roman', serif" font-size="45" font-style="italic">l</tspan><tspan font-family="'Liberation Sans', Arial, sans-serif" font-size="45"> = 10</tspan></text>
<text x="1275.86" y="70.65" fill="#000000" filter="url(#crisp)" xml:space="preserve"><tspan font-family="'Liberation Sans', Arial, sans-serif" font-size="63" font-weight="bold">(b)</tspan></text>
<text x="1418.18" y="169.25" fill="#000000" filter="url(#crisp)" xml:space="preserve"><tspan font-family="'Liberation Sans', Arial, sans-serif" font-size="58.5">4</tspan></text>
<text x="1419.41" y="457.85" fill="#000000" filter="url(#crisp)" xml:space="preserve"><tspan font-family="'Liberation Sans', Arial, sans-serif" font-size="58.5">2</tspan></text>
<text x="1418.75" y="745.85" fill="#000000" filter="url(#crisp)" xml:space="preserve"><tspan font-family="'Liberation Sans', Arial, sans-serif" font-size="58.5">0</tspan></text>
<text x="1464.23" y="806.85" fill="#000000" filter="url(#crisp)" xml:space="preserve"><tspan font-family="'Liberation Sans', Arial, sans-serif" font-size="58.5">0</tspan></text>
<text x="1752.74" y="805.85" fill="#000000" filter="url(#crisp)" xml:space="preserve"><tspan font-family="'Liberation Sans', Arial, sans-serif" font-size="58.5">1000</tspan></text>
<text x="2089.9" y="806.85" fill="#000000" filter="url(#crisp)" xml:space="preserve"><tspan font-family="'Liberation Sans', Arial, sans-serif" font-size="58.5">2000</tspan></text>
<text x="1676.31" y="867.8" fill="#000000" filter="url(#crisp)" xml:space="preserve"><tspan font-family="'Liberation Sans', Arial, sans-serif" font-size="58.5">Roundtrips</tspan></text>
<text x="0" y="0" fill="#000000" filter="url(#crisp)" xml:space="preserve" transform="translate(1340,717.4) rotate(-90)" textLength="554.03" lengthAdjust="spacing"><tspan font-family="'Liberation Sans', Arial, sans-serif" font-size="58.5">Intracavity power (W)</tspan></text>
<path d="M250 1172.3L251.5 1168.17L253 1164.2L254.5 1160.37L256 1156.67L257.5 1153.09L259 1149.6L260.5 1146.19L262 1142.86L263.5 1139.6L265 1136.4L266.5 1133.24L268 1130.13L269.5 1127.06L271 1124.03L272.5 1121.03L274 1118.05L275.5 1115.1L277 1112.18L278.5 1109.27L280 1106.39L281.5 1103.53L283 1100.7L284.5 1097.88L286 1095.08L287.5 1092.31L289 1089.56L290.5 1086.83L292 1084.13L293.5 1081.46L295 1078.81L296.5 1076.19L298 1073.6L299.5 1071.04L301 1068.51L302.5 1066.02L304 1063.57L305.5 1061.15L307 1058.76L308.5 1056.42L310 1054.12L311.5 1051.85L313 1049.63L314.5 1047.46L316 1045.32L317.5 1043.23L319 1041.19L320.5 1039.19L322 1037.24L323.5 1035.34L325 1033.48L326.5 1031.67L328 1029.91L329.5 1028.2L331 1026.53L332.5 1024.91L334 1023.34L335.5 1021.82L337 1020.35L338.5 1018.92L340 1017.54L341.5 1016.2L343 1014.92L344.5 1013.67L346 1012.48L347.5 1011.32L349 1010.22L350.5 1009.15L352 1008.13L353.5 1007.15L355 1006.21L356.5 1005.32L358 1004.46L359.5 1003.65L361 1002.87L362.5 1002.13L364 1001.44L365.5 1000.77L367 1000.15L368.5 999.56L370 999.01L371.5 998.49L373 998.01L374.5 997.57L376 997.15L377.5 996.77L379 996.43L380.5 996.11L382 995.83L383.5 995.58L385 995.37L386.5 995.18L388 995.03L389.5 994.91L391 994.81L392.5 994.75L394 994.72L395.5 994.73L397 994.76L398.5 994.82L400 994.92L401.5 995.04L403 995.2L404.5 995.38L406 995.6L407.5 995.85L409 996.14L410.5 996.45L412 996.8L413.5 997.17L415 997.58L416.5 998.03L418 998.51L419.5 999.01L421 999.56L422.5 1000.14L424 1000.75L425.5 1001.39L427 1002.07L428.5 1002.79L430 1003.54L431.5 1004.33L433 1005.15L434.5 1006.01L436 1006.9L437.5 1007.83L439 1008.8L440.5 1009.8L442 1010.84L443.5 1011.91L445 1013.03L446.5 1014.18L448 1015.36L449.5 1016.59L451 1017.85L452.5 1019.15L454 1020.48L455.5 1021.85L457 1023.26L458.5 1024.7L460 1026.18L461.5 1027.69L463 1029.24L464.5 1030.82L466 1032.44L467.5 1034.09L469 1035.77L470.5 1037.49L472 1039.24L473.5 1041.01L475 1042.82L476.5 1044.66L478 1046.53L479.5 1048.42L481 1050.34L482.5 1052.29L484 1054.26L485.5 1056.26L487 1058.27L488.5 1060.31L490 1062.37L491.5 1064.45L493 1066.55L494.5 1068.66L496 1070.79L497.5 1072.93L499 1075.09L500.5 1077.25L502 1079.42L503.5 1081.61L505 1083.79L506.5 1085.99L508 1088.18L509.5 1090.38L511 1092.57L512.5 1094.77L514 1096.96L515.5 1099.15L517 1101.32L518.5 1103.49L520 1105.65L521.5 1107.8L523 1109.93L524.5 1112.04L526 1114.14L527.5 1116.22L529 1118.28L530.5 1120.31L532 1122.32L533.5 1124.3L535 1126.26L536.5 1128.18L538 1130.08L539.5 1131.93L541 1133.76L542.5 1135.55L544 1137.29L545.5 1139L547 1140.67L548.5 1142.29L550 1143.87L551.5 1145.41L553 1146.89L554.5 1148.33L556 1149.72L557.5 1151.05L559 1152.33L560.5 1153.56L562 1154.74L563.5 1155.85L565 1156.91L566.5 1157.91L568 1158.85L569.5 1159.73L571 1160.55L572.5 1161.31L574 1162.01L575.5 1162.64L577 1163.21L578.5 1163.71L580 1164.15L581.5 1164.53L583 1164.83L584.5 1165.07L586 1165.25L587.5 1165.36L589 1165.4L590.5 1165.38L592 1165.29L593.5 1165.13L595 1164.9L596.5 1164.61L598 1164.26L599.5 1163.84L601 1163.35L602.5 1162.8L604 1162.18L605.5 1161.5L607 1160.76L608.5 1159.96L610 1159.09L611.5 1158.17L613 1157.18L614.5 1156.14L616 1155.04L617.5 1153.88L619 1152.67L620.5 1151.4L622 1150.08L623.5 1148.7L625 1147.28L626.5 1145.81L628 1144.29L629.5 1142.72L631 1141.11L632.5 1139.45L634 1137.75L635.5 1136.02L637 1134.24L638.5 1132.42L640 1130.57L641.5 1128.69L643 1126.77L644.5 1124.83L646 1122.85L647.5 1120.85L649 1118.82L650.5 1116.77L652 1114.7L653.5 1112.61L655 1110.49L656.5 1108.37L658 1106.22L659.5 1104.07L661 1101.9L662.5 1099.73L664 1097.54L665.5 1095.35L667 1093.16L668.5 1090.96L670 1088.77L671.5 1086.57L673 1084.38L674.5 1082.19L676 1080.01L677.5 1077.83L679 1075.66L680.5 1073.51L682 1071.36L683.5 1069.23L685 1067.11L686.5 1065.01L688 1062.93L689.5 1060.86L691 1058.82L692.5 1056.79L694 1054.79L695.5 1052.81L697 1050.86L698.5 1048.93L700 1047.03L701.5 1045.15L703 1043.31L704.5 1041.49L706 1039.71L707.5 1037.95L709 1036.23L710.5 1034.53L712 1032.88L713.5 1031.25L715 1029.66L716.5 1028.1L718 1026.58L719.5 1025.09L721 1023.64L722.5 1022.22L724 1020.84L725.5 1019.5L727 1018.19L728.5 1016.92L730 1015.69L731.5 1014.49L733 1013.33L734.5 1012.21L736 1011.12L737.5 1010.07L739 1009.06L740.5 1008.08L742 1007.14L743.5 1006.24L745 1005.37L746.5 1004.54L748 1003.75L749.5 1002.99L751 1002.26L752.5 1001.57L754 1000.92L755.5 1000.3L757 999.71L758.5 999.16L760 998.64L761.5 998.15L763 997.7L764.5 997.28L766 996.89L767.5 996.54L769 996.22L770.5 995.93L772 995.67L773.5 995.44L775 995.24L776.5 995.08L778 994.95L779.5 994.84L781 994.77L782.5 994.73L784 994.72L785.5 994.74L787 994.79L788.5 994.88L790 994.99L791.5 995.14L793 995.31L794.5 995.52L796 995.76L797.5 996.04L799 996.34L800.5 996.68L802 997.05L803.5 997.45L805 997.89L806.5 998.36L808 998.87L809.5 999.41L811 999.99L812.5 1000.6L814 1001.26L815.5 1001.94L817 1002.67L818.5 1003.44L820 1004.24L821.5 1005.09L823 1005.97L824.5 1006.9L826 1007.87L827.5 1008.88L829 1009.93L830.5 1011.02L832 1012.17L833.5 1013.35L835 1014.58L836.5 1015.86L838 1017.18L839.5 1018.55L841 1019.96L842.5 1021.42L844 1022.93L845.5 1024.49L847 1026.1L848.5 1027.75L850 1029.45L851.5 1031.2L853 1033L854.5 1034.84L856 1036.73L857.5 1038.67L859 1040.65L860.5 1042.69L862 1044.76L863.5 1046.88L865 1049.05L866.5 1051.26L868 1053.51L869.5 1055.8L871 1058.13L872.5 1060.51L874 1062.92L875.5 1065.36L877 1067.85L878.5 1070.36L880 1072.91L881.5 1075.5L883 1078.11L884.5 1080.75L886 1083.42L887.5 1086.11L889 1088.83L890.5 1091.57L892 1094.34L893.5 1097.13L895 1099.94L896.5 1102.78L898 1105.63L899.5 1108.5L901 1111.4L902.5 1114.32L904 1117.26L905.5 1120.23L907 1123.22L908.5 1126.25L910 1129.31L911.5 1132.41L913 1135.55L914.5 1138.74L916 1141.99L917.5 1145.3L919 1148.68L920.5 1152.15L922 1155.71L923.5 1159.38L925 1163.17L926.5 1167.1L928 1171.18L929.5 1175.45L931 1179.91L932.5 1184.59" fill="none" stroke="#0000ff" stroke-width="5.0" stroke-linejoin="round" stroke-linecap="butt" shape-rendering="crispEdges" clip-path="url(#cc)"/>
<path d="M250 1329.23L252 1329.21L254 1329.19L256 1329.17L258 1329.16L260 1329.14L262 1329.12L264 1329.1L266 1329.09L268 1329.07L270 1329.05L272 1329.04L274 1329.02L276 1329L278 1328.99L280 1328.97L282 1328.95L284 1328.94L286 1328.92L288 1328.9L290 1328.89L292 1328.87L294 1328.86L296 1328.84L298 1328.83L300 1328.81L302 1328.8L304 1328.78L306 1328.77L308 1328.75L310 1328.74L312 1328.72L314 1328.71L316 1328.69L318 1328.68L320 1328.66L322 1328.65L324 1328.63L326 1328.62L328 1328.61L330 1328.59L332 1328.58L334 1328.57L336 1328.55L338 1328.54L340 1328.53L342 1328.51L344 1328.5L346 1328.49L348 1328.47L350 1328.46L352 1328.45L354 1328.44L356 1328.42L358 1328.41L360 1328.4L362 1328.39L364 1328.38L366 1328.36L368 1328.35L370 1328.34L372 1328.33L374 1328.32L376 1328.31L378 1328.3L380 1328.29L382 1328.28L384 1328.27L386 1328.26L388 1328.25L390 1328.24L392 1328.23L394 1328.22L396 1328.21L398 1328.2L400 1328.19L402 1328.18L404 1328.17L406 1328.17L408 1328.16L410 1328.15L412 1328.15L414 1328.14L416 1328.14L418 1328.13L420 1328.13L422 1328.12L424 1328.12L426 1328.12L428 1328.11L430 1328.11L432 1328.11L434 1328.11L436 1328.11L438 1328.11L440 1328.12L442 1328.12L444 1328.12L446 1328.13L448 1328.14L450 1328.15L452 1328.16L454 1328.17L456 1328.18L458 1328.19L460 1328.21L462 1328.23L464 1328.25L466 1328.27L468 1328.29L470 1328.31L472 1328.34L474 1328.37L476 1328.4L478 1328.43L480 1328.47L482 1328.51L484 1328.55L486 1328.6L488 1328.65L490 1328.7L492 1328.75L494 1328.81L496 1328.88L498 1328.95L500 1329.02L502 1329.11L504 1329.19L506 1329.29L508 1329.4L510 1329.51L512 1329.64L514 1329.78L516 1329.93L518 1330.1L520 1330.28L522 1330.48L524 1330.7L526 1330.95L528 1331.21L530 1331.5L532 1331.82L534 1332.16L536 1332.54L538 1332.94L540 1333.37L542 1333.84L544 1334.33L546 1334.86L548 1335.41L550 1335.99L552 1336.59L554 1337.21L556 1337.85L558 1338.5L560 1339.16L562 1339.83L564 1340.48L566 1341.13L568 1341.76L570 1342.37L572 1342.94L574 1343.48L576 1343.97L578 1344.41L580 1344.79L582 1345.11L584 1345.37L586 1345.55L588 1345.66L590 1345.7L592 1345.66L594 1345.55L596 1345.37L598 1345.11L600 1344.79L602 1344.41L604 1343.97L606 1343.48L608 1342.94L610 1342.37L612 1341.76L614 1341.13L616 1340.48L618 1339.83L620 1339.16L622 1338.5L624 1337.85L626 1337.21L628 1336.59L630 1335.99L632 1335.41L634 1334.86L636 1334.33L638 1333.84L640 1333.37L642 1332.94L644 1332.54L646 1332.16L648 1331.82L650 1331.5L652 1331.21L654 1330.95L656 1330.7L658 1330.48L660 1330.28L662 1330.1L664 1329.93L666 1329.78L668 1329.64L670 1329.51L672 1329.4L674 1329.29L676 1329.19L678 1329.11L680 1329.02L682 1328.95L684 1328.88L686 1328.81L688 1328.75L690 1328.7L692 1328.65L694 1328.6L696 1328.55L698 1328.51L700 1328.47L702 1328.43L704 1328.4L706 1328.37L708 1328.34L710 1328.31L712 1328.29L714 1328.27L716 1328.25L718 1328.23L720 1328.21L722 1328.19L724 1328.18L726 1328.17L728 1328.16L730 1328.15L732 1328.14L734 1328.13L736 1328.12L738 1328.12L740 1328.12L742 1328.11L744 1328.11L746 1328.11L748 1328.11L750 1328.11L752 1328.11L754 1328.12L756 1328.12L758 1328.12L760 1328.13L762 1328.13L764 1328.14L766 1328.14L768 1328.15L770 1328.15L772 1328.16L774 1328.17L776 1328.17L778 1328.18L780 1328.19L782 1328.2L784 1328.21L786 1328.22L788 1328.23L790 1328.24L792 1328.25L794 1328.26L796 1328.27L798 1328.28L800 1328.29L802 1328.3L804 1328.31L806 1328.32L808 1328.33L810 1328.34L812 1328.35L814 1328.36L816 1328.38L818 1328.39L820 1328.4L822 1328.41L824 1328.42L826 1328.44L828 1328.45L830 1328.46L832 1328.47L834 1328.49L836 1328.5L838 1328.51L840 1328.53L842 1328.54L844 1328.55L846 1328.57L848 1328.58L850 1328.59L852 1328.61L854 1328.62L856 1328.63L858 1328.65L860 1328.66L862 1328.68L864 1328.69L866 1328.71L868 1328.72L870 1328.74L872 1328.75L874 1328.77L876 1328.78L878 1328.8L880 1328.81L882 1328.83L884 1328.84L886 1328.86L888 1328.87L890 1328.89L892 1328.9L894 1328.92L896 1328.94L898 1328.95L900 1328.97L902 1328.99L904 1329L906 1329.02L908 1329.04L910 1329.05L912 1329.07L914 1329.09L916 1329.1L918 1329.12L920 1329.14L922 1329.16L924 1329.17L926 1329.19L928 1329.21L930 1329.23L932 1329.24" fill="none" stroke="#ff0000" stroke-width="9.6" stroke-linejoin="round" stroke-linecap="butt" shape-rendering="crispEdges" clip-path="url(#cc)"/>
<rect x="250" y="986" width="680" height="5" fill="#000000"/>
<rect x="250" y="1562" width="680" height="5" fill="#000000"/>
<rect x="587" y="1543" width="6" height="19" fill="#000000"/>
<rect x="250" y="986" width="5" height="581" fill="#0000ff"/>
<rect x="255" y="991" width="19" height="6" fill="#0000ff"/>
<rect x="255" y="1276" width="19" height="6" fill="#0000ff"/>
<rect x="255" y="1562" width="19" height="5" fill="#0000ff"/>
<rect x="925" y="986" width="5" height="581" fill="#ff0000"/>
<rect x="908" y="986" width="17" height="5" fill="#ff0000"/>
<rect x="908" y="1274" width="17" height="5" fill="#ff0000"/>
<rect x="908" y="1562" width="17" height="5" fill="#ff0000"/>
<text x="50.86" y="907.65" fill="#000000" filter="url(#crisp)" xml:space="preserve"><tspan font-family="'Liberation Sans', Arial, sans-serif" font-size="63" font-weight="bold">(c)</tspan></text>
<text x="191.75" y="1011.85" fill="#0000ff" filter="url(#crisp)" xml:space="preserve"><tspan font-family="'Liberation Sans', Arial, sans-serif" font-size="58.5">0</tspan></text>
<text x="172.44" y="1296.25" fill="#0000ff" filter="url(#crisp)" xml:space="preserve"><tspan font-family="'Liberation Sans', Arial, sans-serif" font-size="58.5">-5</tspan></text>
<text x="139.73" y="1581.85" fill="#0000ff" filter="url(#crisp)" xml:space="preserve"><tspan font-family="'Liberation Sans', Arial, sans-serif" font-size="58.5">-10</tspan></text>
<text x="953.81" y="1005.1" fill="#ff0000" filter="url(#crisp)" xml:space="preserve" dx="0 -1 0"><tspan font-family="'Liberation Sans', Arial, sans-serif" font-size="56">0.1</tspan></text>
<text x="953.81" y="1293.1" fill="#ff0000" filter="url(#crisp)" xml:space="preserve" dx="0 -1 0"><tspan font-family="'Liberation Sans', Arial, sans-serif" font-size="56">0.0</tspan></text>
<text x="952.51" y="1581.1" fill="#ff0000" filter="url(#crisp)" xml:space="preserve" dx="0 0 -1 0"><tspan font-family="'Liberation Sans', Arial, sans-serif" font-size="56">-0.1</tspan></text>
<text x="189.93" y="1641.25" fill="#000000" filter="url(#crisp)" xml:space="preserve"><tspan font-family="'Liberation Sans', Arial, sans-serif" font-size="58.5">1545</tspan></text>
<text x="524.84" y="1641.85" fill="#000000" filter="url(#crisp)" xml:space="preserve"><tspan font-family="'Liberation Sans', Arial, sans-serif" font-size="58.5">1550</tspan></text>
<text x="860.63" y="1641.25" fill="#000000" filter="url(#crisp)" xml:space="preserve"><tspan font-family="'Liberation Sans', Arial, sans-serif" font-size="58.5">1555</tspan></text>
<text x="372.49" y="1704.5" fill="#000000" filter="url(#crisp)" xml:space="preserve" textLength="441.38" lengthAdjust="spacing"><tspan font-family="'Liberation Sans', Arial, sans-serif" font-size="58.5">Wavelength (nm)</tspan></text>
<text x="0" y="0" fill="#0000ff" filter="url(#crisp)" xml:space="preserve" transform="translate(105,1466.4) rotate(-90)" textLength="347.03" lengthAdjust="spacing"><tspan font-family="'Liberation Sans', Arial, sans-serif" font-size="58.5">Intensity (dB)</tspan></text>
<text x="0" y="0" fill="#ff0000" filter="url(#crisp)" xml:space="preserve" transform="translate(1116,1401.97) rotate(-90)" textLength="248.22" lengthAdjust="spacing"><tspan font-family="'Liberation Sans', Arial, sans-serif" font-size="54.5">Phase</tspan><tspan font-family="'Liberation Serif', 'Times New Roman', serif" font-size="54.5"> / </tspan><tspan font-family="'Liberation Serif', 'Times New Roman', serif" font-size="54.5" font-style="italic">2π</tspan></text>
<path d="M1560 1609.68L1561.5 1603.03L1563 1596.39L1564.5 1589.76L1566 1583.14L1567.5 1576.53L1569 1569.94L1570.5 1563.35L1572 1556.78L1573.5 1550.23L1575 1543.69L1576.5 1537.17L1578 1530.67L1579.5 1524.19L1581 1517.73L1582.5 1511.3L1584 1504.88L1585.5 1498.49L1587 1492.12L1588.5 1485.78L1590 1479.46L1591.5 1473.17L1593 1466.91L1594.5 1460.67L1596 1454.47L1597.5 1448.29L1599 1442.14L1600.5 1436.03L1602 1429.95L1603.5 1423.89L1605 1417.88L1606.5 1411.89L1608 1405.94L1609.5 1400.03L1611 1394.14L1612.5 1388.3L1614 1382.49L1615.5 1376.72L1617 1370.98L1618.5 1365.29L1620 1359.63L1621.5 1354.01L1623 1348.42L1624.5 1342.88L1626 1337.38L1627.5 1331.92L1629 1326.49L1630.5 1321.11L1632 1315.77L1633.5 1310.47L1635 1305.22L1636.5 1300L1638 1294.83L1639.5 1289.7L1641 1284.61L1642.5 1279.56L1644 1274.56L1645.5 1269.6L1647 1264.69L1648.5 1259.82L1650 1254.99L1651.5 1250.21L1653 1245.47L1654.5 1240.78L1656 1236.13L1657.5 1231.52L1659 1226.96L1660.5 1222.45L1662 1217.98L1663.5 1213.55L1665 1209.17L1666.5 1204.84L1668 1200.55L1669.5 1196.31L1671 1192.11L1672.5 1187.96L1674 1183.85L1675.5 1179.79L1677 1175.78L1678.5 1171.81L1680 1167.89L1681.5 1164.01L1683 1160.18L1684.5 1156.39L1686 1152.65L1687.5 1148.95L1689 1145.3L1690.5 1141.7L1692 1138.14L1693.5 1134.63L1695 1131.16L1696.5 1127.74L1698 1124.37L1699.5 1121.04L1701 1117.75L1702.5 1114.51L1704 1111.32L1705.5 1108.17L1707 1105.06L1708.5 1102L1710 1098.99L1711.5 1096.02L1713 1093.09L1714.5 1090.21L1716 1087.38L1717.5 1084.59L1719 1081.84L1720.5 1079.14L1722 1076.48L1723.5 1073.87L1725 1071.3L1726.5 1068.77L1728 1066.29L1729.5 1063.85L1731 1061.46L1732.5 1059.1L1734 1056.8L1735.5 1054.53L1737 1052.31L1738.5 1050.13L1740 1048L1741.5 1045.91L1743 1043.86L1744.5 1041.85L1746 1039.89L1747.5 1037.97L1749 1036.09L1750.5 1034.26L1752 1032.46L1753.5 1030.71L1755 1029L1756.5 1027.34L1758 1025.71L1759.5 1024.13L1761 1022.58L1762.5 1021.08L1764 1019.63L1765.5 1018.21L1767 1016.83L1768.5 1015.5L1770 1014.2L1771.5 1012.95L1773 1011.74L1774.5 1010.57L1776 1009.44L1777.5 1008.35L1779 1007.3L1780.5 1006.3L1782 1005.33L1783.5 1004.4L1785 1003.52L1786.5 1002.67L1788 1001.87L1789.5 1001.1L1791 1000.38L1792.5 999.69L1794 999.05L1795.5 998.44L1797 997.88L1798.5 997.36L1800 996.87L1801.5 996.43L1803 996.02L1804.5 995.66L1806 995.33L1807.5 995.05L1809 994.8L1810.5 994.6L1812 994.43L1813.5 994.31L1815 994.22L1816.5 994.17L1818 994.17L1819.5 994.2L1821 994.27L1822.5 994.39L1824 994.54L1825.5 994.73L1827 994.96L1828.5 995.23L1830 995.55L1831.5 995.9L1833 996.29L1834.5 996.72L1836 997.19L1837.5 997.7L1839 998.25L1840.5 998.84L1842 999.47L1843.5 1000.14L1845 1000.86L1846.5 1001.61L1848 1002.4L1849.5 1003.23L1851 1004.1L1852.5 1005.02L1854 1005.97L1855.5 1006.96L1857 1008L1858.5 1009.07L1860 1010.19L1861.5 1011.35L1863 1012.54L1864.5 1013.78L1866 1015.06L1867.5 1016.38L1869 1017.75L1870.5 1019.15L1872 1020.59L1873.5 1022.08L1875 1023.61L1876.5 1025.18L1878 1026.79L1879.5 1028.44L1881 1030.14L1882.5 1031.87L1884 1033.65L1885.5 1035.48L1887 1037.34L1888.5 1039.25L1890 1041.2L1891.5 1043.19L1893 1045.22L1894.5 1047.3L1896 1049.42L1897.5 1051.58L1899 1053.79L1900.5 1056.04L1902 1058.33L1903.5 1060.67L1905 1063.05L1906.5 1065.47L1908 1067.94L1909.5 1070.45L1911 1073L1912.5 1075.6L1914 1078.25L1915.5 1080.93L1917 1083.67L1918.5 1086.44L1920 1089.26L1921.5 1092.13L1923 1095.04L1924.5 1097.99L1926 1100.99L1927.5 1104.04L1929 1107.13L1930.5 1110.26L1932 1113.44L1933.5 1116.67L1935 1119.94L1936.5 1123.25L1938 1126.61L1939.5 1130.02L1941 1133.47L1942.5 1136.97L1944 1140.51L1945.5 1144.1L1947 1147.73L1948.5 1151.41L1950 1155.14L1951.5 1158.91L1953 1162.73L1954.5 1166.59L1956 1170.5L1957.5 1174.45L1959 1178.45L1960.5 1182.49L1962 1186.59L1963.5 1190.72L1965 1194.9L1966.5 1199.13L1968 1203.41L1969.5 1207.72L1971 1212.09L1972.5 1216.5L1974 1220.95L1975.5 1225.45L1977 1230L1978.5 1234.59L1980 1239.22L1981.5 1243.9L1983 1248.62L1984.5 1253.39L1986 1258.2L1987.5 1263.06L1989 1267.96L1990.5 1272.9L1992 1277.89L1993.5 1282.92L1995 1288L1996.5 1293.11L1998 1298.27L1999.5 1303.47L2001 1308.72L2002.5 1314L2004 1319.33L2005.5 1324.7L2007 1330.1L2008.5 1335.55L2010 1341.04L2011.5 1346.57L2013 1352.14L2014.5 1357.75L2016 1363.4L2017.5 1369.08L2019 1374.8L2020.5 1380.56L2022 1386.36L2023.5 1392.19L2025 1398.06L2026.5 1403.97L2028 1409.9L2029.5 1415.88L2031 1421.88L2032.5 1427.92L2034 1434L2035.5 1440.1L2037 1446.24L2038.5 1452.4L2040 1458.6L2041.5 1464.82L2043 1471.08L2044.5 1477.36L2046 1483.67L2047.5 1490L2049 1496.36L2050.5 1502.75L2052 1509.16L2053.5 1515.59L2055 1522.04L2056.5 1528.51L2058 1535.01L2059.5 1541.52L2061 1548.05L2062.5 1554.6L2064 1561.16L2065.5 1567.74L2067 1574.33L2068.5 1580.94L2070 1587.55L2071.5 1594.18L2073 1600.82L2074.5 1607.46L2076 1614.11L2077.5 1620.77" fill="none" stroke="#0000ff" stroke-width="5.0" stroke-linejoin="round" stroke-linecap="butt" shape-rendering="crispEdges" clip-path="url(#cd)"/>
<path d="M1480 1333.02L1484 1332.94L1488 1332.86L1492 1332.79L1496 1332.71L1500 1332.64L1504 1332.56L1508 1332.49L1512 1332.42L1516 1332.35L1520 1332.28L1524 1332.21L1528 1332.14L1532 1332.08L1536 1332.01L1540 1331.95L1544 1331.88L1548 1331.82L1552 1331.76L1556 1331.69L1560 1331.63L1564 1331.57L1568 1331.52L1572 1331.46L1576 1331.4L1580 1331.35L1584 1331.29L1588 1331.24L1592 1331.18L1596 1331.13L1600 1331.08L1604 1331.03L1608 1330.98L1612 1330.93L1616 1330.89L1620 1330.84L1624 1330.79L1628 1330.75L1632 1330.71L1636 1330.66L1640 1330.62L1644 1330.58L1648 1330.54L1652 1330.5L1656 1330.46L1660 1330.43L1664 1330.39L1668 1330.35L1672 1330.32L1676 1330.29L1680 1330.25L1684 1330.22L1688 1330.19L1692 1330.16L1696 1330.13L1700 1330.1L1704 1330.08L1708 1330.05L1712 1330.03L1716 1330L1720 1329.98L1724 1329.96L1728 1329.94L1732 1329.91L1736 1329.9L1740 1329.88L1744 1329.86L1748 1329.84L1752 1329.83L1756 1329.81L1760 1329.8L1764 1329.78L1768 1329.77L1772 1329.76L1776 1329.75L1780 1329.74L1784 1329.73L1788 1329.73L1792 1329.72L1796 1329.71L1800 1329.71L1804 1329.71L1808 1329.7L1812 1329.7L1816 1329.7L1820 1329.7L1824 1329.7L1828 1329.7L1832 1329.71L1836 1329.71L1840 1329.71L1844 1329.72L1848 1329.73L1852 1329.73L1856 1329.74L1860 1329.75L1864 1329.76L1868 1329.77L1872 1329.78L1876 1329.8L1880 1329.81L1884 1329.83L1888 1329.84L1892 1329.86L1896 1329.88L1900 1329.9L1904 1329.91L1908 1329.94L1912 1329.96L1916 1329.98L1920 1330L1924 1330.03L1928 1330.05L1932 1330.08L1936 1330.1L1940 1330.13L1944 1330.16L1948 1330.19L1952 1330.22L1956 1330.25L1960 1330.29L1964 1330.32L1968 1330.35L1972 1330.39L1976 1330.43L1980 1330.46L1984 1330.5L1988 1330.54L1992 1330.58L1996 1330.62L2000 1330.66L2004 1330.71L2008 1330.75L2012 1330.79L2016 1330.84L2020 1330.89L2024 1330.93L2028 1330.98L2032 1331.03L2036 1331.08L2040 1331.13L2044 1331.18L2048 1331.24L2052 1331.29L2056 1331.35L2060 1331.4L2064 1331.46L2068 1331.52L2072 1331.57L2076 1331.63L2080 1331.69L2084 1331.76L2088 1331.82L2092 1331.88L2096 1331.95L2100 1332.01L2104 1332.08L2108 1332.14L2112 1332.21L2116 1332.28L2120 1332.35L2124 1332.42L2128 1332.49L2132 1332.56L2136 1332.64L2140 1332.71L2144 1332.79L2148 1332.86L2152 1332.94L2156 1333.02L2160 1333.1" fill="none" stroke="#ff0000" stroke-width="9.3" stroke-linejoin="round" stroke-linecap="butt" shape-rendering="crispEdges" clip-path="url(#cd)"/>
<rect x="1480" y="986" width="679" height="5" fill="#000000"/>
<rect x="1480" y="1562" width="679" height="5" fill="#000000"/>
<rect x="1815" y="1543" width="5" height="19" fill="#000000"/>
<rect x="1480" y="986" width="5" height="581" fill="#0000ff"/>
<rect x="1485" y="992" width="18" height="5" fill="#0000ff"/>
<rect x="1485" y="1277" width="18" height="5" fill="#0000ff"/>
<rect x="1485" y="1562" width="18" height="5" fill="#0000ff"/>
<rect x="2154" y="987" width="5" height="580" fill="#ff0000"/>
<rect x="2137" y="987" width="17" height="4" fill="#ff0000"/>
<rect x="2137" y="1275" width="17" height="5" fill="#ff0000"/>
<rect x="2137" y="1562" width="17" height="5" fill="#ff0000"/>
<text x="1275.86" y="908.65" fill="#000000" filter="url(#crisp)" xml:space="preserve"><tspan font-family="'Liberation Sans', Arial, sans-serif" font-size="63" font-weight="bold">(d)</tspan></text>
<text x="1420.75" y="1011.85" fill="#0000ff" filter="url(#crisp)" xml:space="preserve"><tspan font-family="'Liberation Sans', Arial, sans-serif" font-size="58.5">0</tspan></text>
<text x="1401.44" y="1296.25" fill="#0000ff" filter="url(#crisp)" xml:space="preserve"><tspan font-family="'Liberation Sans', Arial, sans-serif" font-size="58.5">-5</tspan></text>
<text x="1368.73" y="1581.85" fill="#0000ff" filter="url(#crisp)" xml:space="preserve"><tspan font-family="'Liberation Sans', Arial, sans-serif" font-size="58.5">-10</tspan></text>
<text x="2182.81" y="1006.1" fill="#ff0000" filter="url(#crisp)" xml:space="preserve" dx="0 -1 0"><tspan font-family="'Liberation Sans', Arial, sans-serif" font-size="56">0.1</tspan></text>
<text x="2182.81" y="1293.1" fill="#ff0000" filter="url(#crisp)" xml:space="preserve" dx="0 -1 0"><tspan font-family="'Liberation Sans', Arial, sans-serif" font-size="56">0.0</tspan></text>
<text x="2181.51" y="1581.1" fill="#ff0000" filter="url(#crisp)" xml:space="preserve" dx="0 0 -1 0"><tspan font-family="'Liberation Sans', Arial, sans-serif" font-size="56">-0.1</tspan></text>
<text x="1419.93" y="1641.25" fill="#000000" filter="url(#crisp)" xml:space="preserve"><tspan font-family="'Liberation Sans', Arial, sans-serif" font-size="58.5">1545</tspan></text>
<text x="1754.84" y="1641.85" fill="#000000" filter="url(#crisp)" xml:space="preserve"><tspan font-family="'Liberation Sans', Arial, sans-serif" font-size="58.5">1550</tspan></text>
<text x="2090.63" y="1641.25" fill="#000000" filter="url(#crisp)" xml:space="preserve"><tspan font-family="'Liberation Sans', Arial, sans-serif" font-size="58.5">1555</tspan></text>
<text x="1602.49" y="1704.5" fill="#000000" filter="url(#crisp)" xml:space="preserve" textLength="441.38" lengthAdjust="spacing"><tspan font-family="'Liberation Sans', Arial, sans-serif" font-size="58.5">Wavelength (nm)</tspan></text>
<text x="0" y="0" fill="#0000ff" filter="url(#crisp)" xml:space="preserve" transform="translate(1341,1466.4) rotate(-90)" textLength="347.03" lengthAdjust="spacing"><tspan font-family="'Liberation Sans', Arial, sans-serif" font-size="58.5">Intensity (dB)</tspan></text>
<text x="0" y="0" fill="#ff0000" filter="url(#crisp)" xml:space="preserve" transform="translate(2339,1401.97) rotate(-90)" textLength="247.22" lengthAdjust="spacing"><tspan font-family="'Liberation Sans', Arial, sans-serif" font-size="54.5">Phase</tspan><tspan font-family="'Liberation Serif', 'Times New Roman', serif" font-size="54.5"> / </tspan><tspan font-family="'Liberation Serif', 'Times New Roman', serif" font-size="54.5" font-style="italic">2π</tspan></text>
<rect x="851.09" y="212.64" width="8.62" height="5.26" fill="#fff"/>
<rect x="863.68" y="212.64" width="8.27" height="5.26" fill="#fff"/>
<rect x="851.09" y="324.34" width="8.62" height="5.26" fill="#fff"/>
<rect x="863.68" y="324.34" width="8.27" height="5.26" fill="#fff"/>
<rect x="163.9" y="452.48" width="11.03" height="6.27" fill="#fff"/>
<rect x="180.1" y="452.48" width="10.57" height="6.27" fill="#fff"/>
<rect x="530.03" y="800.48" width="11.03" height="6.27" fill="#fff"/>
<rect x="546.23" y="800.48" width="10.57" height="6.27" fill="#fff"/>
<rect x="2077.39" y="211.44" width="8.62" height="5.26" fill="#fff"/>
<rect x="2089.98" y="211.44" width="8.27" height="5.26" fill="#fff"/>
<rect x="2077.39" y="324.54" width="8.62" height="5.26" fill="#fff"/>
<rect x="2089.98" y="324.54" width="8.27" height="5.26" fill="#fff"/>
<rect x="1756.43" y="800.48" width="11.03" height="6.27" fill="#fff"/>
<rect x="1772.63" y="800.48" width="10.57" height="6.27" fill="#fff"/>
<rect x="162.9" y="1576.48" width="11.03" height="6.27" fill="#fff"/>
<rect x="179.1" y="1576.48" width="10.57" height="6.27" fill="#fff"/>
<rect x="1003.02" y="999.92" width="10.58" height="6.08" fill="#fff"/>
<rect x="1018.55" y="999.92" width="10.14" height="6.08" fill="#fff"/>
<rect x="1020.36" y="1575.92" width="10.58" height="6.08" fill="#fff"/>
<rect x="1035.89" y="1575.92" width="10.14" height="6.08" fill="#fff"/>
<rect x="193.62" y="1635.88" width="11.03" height="6.27" fill="#fff"/>
<rect x="209.81" y="1635.88" width="10.57" height="6.27" fill="#fff"/>
<rect x="528.53" y="1636.48" width="11.03" height="6.27" fill="#fff"/>
<rect x="544.73" y="1636.48" width="10.57" height="6.27" fill="#fff"/>
<rect x="864.32" y="1635.88" width="11.03" height="6.27" fill="#fff"/>
<rect x="880.51" y="1635.88" width="10.57" height="6.27" fill="#fff"/>
<rect x="1391.9" y="1576.48" width="11.03" height="6.27" fill="#fff"/>
<rect x="1408.1" y="1576.48" width="10.57" height="6.27" fill="#fff"/>
<rect x="2232.02" y="1000.92" width="10.58" height="6.08" fill="#fff"/>
<rect x="2247.55" y="1000.92" width="10.14" height="6.08" fill="#fff"/>
<rect x="2249.36" y="1575.92" width="10.58" height="6.08" fill="#fff"/>
<rect x="2264.89" y="1575.92" width="10.14" height="6.08" fill="#fff"/>
<rect x="1423.62" y="1635.88" width="11.03" height="6.27" fill="#fff"/>
<rect x="1439.81" y="1635.88" width="10.57" height="6.27" fill="#fff"/>
<rect x="1758.53" y="1636.48" width="11.03" height="6.27" fill="#fff"/>
<rect x="1774.73" y="1636.48" width="10.57" height="6.27" fill="#fff"/>
<rect x="2094.32" y="1635.88" width="11.03" height="6.27" fill="#fff"/>
<rect x="2110.51" y="1635.88" width="10.57" height="6.27" fill="#fff"/>
</svg>
</body></html>
